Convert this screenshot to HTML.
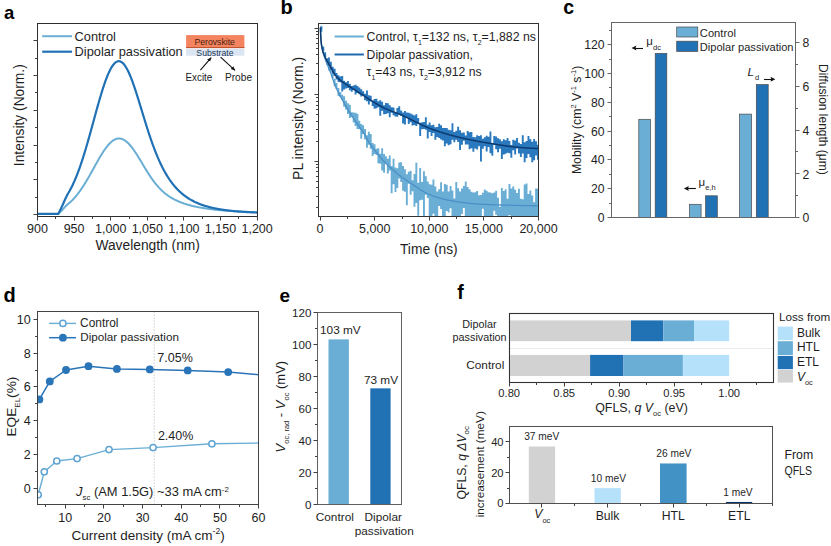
<!DOCTYPE html><html><head><meta charset="utf-8"><style>html,body{margin:0;padding:0;background:#fff;}svg{display:block;}</style></head><body>
<svg width="831" height="546" viewBox="0 0 831 546">
<rect width="831" height="546" fill="#fff"/>
<text x="4" y="19" font-family='"Liberation Sans", sans-serif' font-size="18.5" text-anchor="start" font-weight="bold" font-style="normal" fill="#000" >a</text>
<defs><clipPath id="ca"><rect x="37.5" y="23.5" width="220.0" height="193.0"/></clipPath></defs>
<path d="M37.5,213.9 L37.94,213.9 L38.38,213.9 L38.82,213.9 L39.26,213.9 L39.7,213.9 L40.15,213.9 L40.59,213.9 L41.03,213.9 L41.47,213.9 L41.91,213.9 L42.35,213.9 L42.79,213.9 L43.23,213.9 L43.67,213.9 L44.11,213.9 L44.55,213.9 L44.99,213.9 L45.44,213.9 L45.88,213.9 L46.32,213.9 L46.76,213.9 L47.2,213.9 L47.64,213.9 L48.08,213.9 L48.52,213.9 L48.96,213.9 L49.4,213.9 L49.84,213.9 L50.29,213.9 L50.73,213.9 L51.17,213.9 L51.61,213.9 L52.05,213.9 L52.49,213.9 L52.93,213.9 L53.37,213.9 L53.81,213.9 L54.25,213.9 L54.69,213.9 L55.14,213.9 L55.58,213.9 L56.02,213.9 L56.46,213.9 L56.9,213.9 L57.34,213.9 L57.78,213.9 L58.22,213.88 L58.66,213.5 L59.1,213.11 L59.54,212.7 L59.98,212.29 L60.43,211.85 L60.87,211.41 L61.31,210.96 L61.75,210.5 L62.19,210.03 L62.63,209.55 L63.07,209.07 L63.51,208.59 L63.95,208.11 L64.39,207.62 L64.83,207.14 L65.28,206.67 L65.72,206.2 L66.16,205.74 L66.6,205.3 L67.04,204.87 L67.48,204.47 L67.92,204.08 L68.36,203.73 L68.8,203.37 L69.24,203 L69.68,202.62 L70.13,202.23 L70.57,201.83 L71.01,201.43 L71.45,201.01 L71.89,200.58 L72.33,200.15 L72.77,199.7 L73.21,199.24 L73.65,198.77 L74.09,198.3 L74.53,197.81 L74.97,197.31 L75.42,196.8 L75.86,196.28 L76.3,195.75 L76.74,195.22 L77.18,194.67 L77.62,194.11 L78.06,193.54 L78.5,192.96 L78.94,192.37 L79.38,191.77 L79.82,191.16 L80.27,190.54 L80.71,189.92 L81.15,189.28 L81.59,188.63 L82.03,187.98 L82.47,187.31 L82.91,186.64 L83.35,185.96 L83.79,185.27 L84.23,184.57 L84.67,183.86 L85.12,183.15 L85.56,182.43 L86,181.7 L86.44,180.96 L86.88,180.22 L87.32,179.47 L87.76,178.72 L88.2,177.96 L88.64,177.19 L89.08,176.43 L89.52,175.65 L89.96,174.87 L90.41,174.09 L90.85,173.3 L91.29,172.52 L91.73,171.72 L92.17,170.93 L92.61,170.14 L93.05,169.34 L93.49,168.54 L93.93,167.75 L94.37,166.95 L94.81,166.15 L95.26,165.36 L95.7,164.57 L96.14,163.78 L96.58,162.99 L97.02,162.2 L97.46,161.42 L97.9,160.65 L98.34,159.88 L98.78,159.11 L99.22,158.35 L99.66,157.6 L100.11,156.85 L100.55,156.11 L100.99,155.38 L101.43,154.66 L101.87,153.95 L102.31,153.24 L102.75,152.55 L103.19,151.87 L103.63,151.2 L104.07,150.54 L104.51,149.9 L104.95,149.27 L105.4,148.65 L105.84,148.04 L106.28,147.46 L106.72,146.88 L107.16,146.32 L107.6,145.78 L108.04,145.25 L108.48,144.74 L108.92,144.25 L109.36,143.78 L109.8,143.32 L110.25,142.88 L110.69,142.46 L111.13,142.06 L111.57,141.68 L112.01,141.32 L112.45,140.99 L112.89,140.67 L113.33,140.37 L113.77,140.09 L114.21,139.84 L114.65,139.6 L115.1,139.39 L115.54,139.2 L115.98,139.04 L116.42,138.89 L116.86,138.77 L117.3,138.67 L117.74,138.59 L118.18,138.54 L118.62,138.51 L119.06,138.5 L119.5,138.51 L119.94,138.55 L120.39,138.61 L120.83,138.69 L121.27,138.8 L121.71,138.92 L122.15,139.07 L122.59,139.24 L123.03,139.43 L123.47,139.65 L123.91,139.88 L124.35,140.14 L124.79,140.41 L125.24,140.71 L125.68,141.03 L126.12,141.37 L126.56,141.72 L127,142.1 L127.44,142.5 L127.88,142.91 L128.32,143.34 L128.76,143.79 L129.2,144.26 L129.64,144.74 L130.09,145.25 L130.53,145.76 L130.97,146.29 L131.41,146.84 L131.85,147.4 L132.29,147.98 L132.73,148.57 L133.17,149.17 L133.61,149.79 L134.05,150.41 L134.49,151.05 L134.93,151.7 L135.38,152.36 L135.82,153.03 L136.26,153.7 L136.7,154.39 L137.14,155.08 L137.58,155.78 L138.02,156.49 L138.46,157.2 L138.9,157.92 L139.34,158.64 L139.78,159.37 L140.23,160.1 L140.67,160.83 L141.11,161.57 L141.55,162.3 L141.99,163.04 L142.43,163.78 L142.87,164.52 L143.31,165.25 L143.75,165.99 L144.19,166.72 L144.63,167.46 L145.08,168.19 L145.52,168.91 L145.96,169.64 L146.4,170.35 L146.84,171.07 L147.28,171.78 L147.72,172.48 L148.16,173.17 L148.6,173.87 L149.04,174.55 L149.48,175.23 L149.92,175.9 L150.37,176.56 L150.81,177.21 L151.25,177.86 L151.69,178.49 L152.13,179.12 L152.57,179.74 L153.01,180.35 L153.45,180.95 L153.89,181.54 L154.33,182.13 L154.77,182.7 L155.22,183.26 L155.66,183.82 L156.1,184.36 L156.54,184.89 L156.98,185.42 L157.42,185.93 L157.86,186.44 L158.3,186.93 L158.74,187.42 L159.18,187.9 L159.62,188.36 L160.07,188.82 L160.51,189.27 L160.95,189.71 L161.39,190.14 L161.83,190.56 L162.27,190.97 L162.71,191.37 L163.15,191.77 L163.59,192.16 L164.03,192.54 L164.47,192.91 L164.91,193.27 L165.36,193.62 L165.8,193.97 L166.24,194.31 L166.68,194.64 L167.12,194.97 L167.56,195.29 L168,195.6 L168.44,195.91 L168.88,196.21 L169.32,196.5 L169.76,196.79 L170.21,197.07 L170.65,197.34 L171.09,197.61 L171.53,197.87 L171.97,198.13 L172.41,198.38 L172.85,198.63 L173.29,198.87 L173.73,199.11 L174.17,199.34 L174.61,199.57 L175.06,199.79 L175.5,200.01 L175.94,200.23 L176.38,200.44 L176.82,200.64 L177.26,200.85 L177.7,201.05 L178.14,201.24 L178.58,201.43 L179.02,201.62 L179.46,201.8 L179.9,201.98 L180.35,202.16 L180.79,202.33 L181.23,202.5 L181.67,202.67 L182.11,202.83 L182.55,202.99 L182.99,203.15 L183.43,203.3 L183.87,203.46 L184.31,203.6 L184.75,203.75 L185.2,203.89 L185.64,204.04 L186.08,204.17 L186.52,204.31 L186.96,204.44 L187.4,204.58 L187.84,204.71 L188.28,204.83 L188.72,204.96 L189.16,205.08 L189.6,205.2 L190.05,205.32 L190.49,205.43 L190.93,205.55 L191.37,205.66 L191.81,205.77 L192.25,205.88 L192.69,205.99 L193.13,206.09 L193.57,206.19 L194.01,206.3 L194.45,206.4 L194.89,206.49 L195.34,206.59 L195.78,206.68 L196.22,206.78 L196.66,206.87 L197.1,206.96 L197.54,207.05 L197.98,207.14 L198.42,207.22 L198.86,207.31 L199.3,207.39 L199.74,207.47 L200.19,207.55 L200.63,207.63 L201.07,207.71 L201.51,207.79 L201.95,207.86 L202.39,207.94 L202.83,208.01 L203.27,208.08 L203.71,208.15 L204.15,208.22 L204.59,208.29 L205.04,208.36 L205.48,208.42 L205.92,208.49 L206.36,208.56 L206.8,208.62 L207.24,208.68 L207.68,208.74 L208.12,208.8 L208.56,208.86 L209,208.92 L209.44,208.98 L209.88,209.04 L210.33,209.09 L210.77,209.15 L211.21,209.2 L211.65,209.26 L212.09,209.31 L212.53,209.36 L212.97,209.41 L213.41,209.47 L213.85,209.52 L214.29,209.56 L214.73,209.61 L215.18,209.66 L215.62,209.71 L216.06,209.75 L216.5,209.8 L216.94,209.85 L217.38,209.89 L217.82,209.93 L218.26,209.98 L218.7,210.02 L219.14,210.06 L219.58,210.1 L220.03,210.14 L220.47,210.18 L220.91,210.22 L221.35,210.26 L221.79,210.3 L222.23,210.34 L222.67,210.38 L223.11,210.41 L223.55,210.45 L223.99,210.49 L224.43,210.52 L224.87,210.56 L225.32,210.59 L225.76,210.63 L226.2,210.66 L226.64,210.69 L227.08,210.73 L227.52,210.76 L227.96,210.79 L228.4,210.82 L228.84,210.85 L229.28,210.88 L229.72,210.91 L230.17,210.94 L230.61,210.97 L231.05,211 L231.49,211.03 L231.93,211.06 L232.37,211.09 L232.81,211.11 L233.25,211.14 L233.69,211.17 L234.13,211.19 L234.57,211.22 L235.02,211.25 L235.46,211.27 L235.9,211.3 L236.34,211.32 L236.78,211.35 L237.22,211.37 L237.66,211.39 L238.1,211.42 L238.54,211.44 L238.98,211.46 L239.42,211.49 L239.86,211.51 L240.31,211.53 L240.75,211.55 L241.19,211.57 L241.63,211.59 L242.07,211.62 L242.51,211.64 L242.95,211.66 L243.39,211.68 L243.83,211.7 L244.27,211.72 L244.71,211.74 L245.16,211.76 L245.6,211.78 L246.04,211.79 L246.48,211.81 L246.92,211.83 L247.36,211.85 L247.8,211.87 L248.24,211.88 L248.68,211.9 L249.12,211.92 L249.56,211.94 L250.01,211.95 L250.45,211.97 L250.89,211.99 L251.33,212 L251.77,212.02 L252.21,212.04 L252.65,212.05 L253.09,212.07 L253.53,212.08 L253.97,212.1 L254.41,212.11 L254.85,212.13 L255.3,212.14 L255.74,212.16 L256.18,212.17 L256.62,212.19 L257.06,212.2 L257.5,212.21" fill="none" stroke="#6aaed6" stroke-width="2.0" stroke-linejoin="round" stroke-linecap="round" clip-path="url(#ca)"/>
<path d="M37.5,213.9 L37.94,213.9 L38.38,213.9 L38.82,213.9 L39.26,213.9 L39.7,213.9 L40.15,213.9 L40.59,213.9 L41.03,213.9 L41.47,213.9 L41.91,213.9 L42.35,213.9 L42.79,213.9 L43.23,213.9 L43.67,213.9 L44.11,213.9 L44.55,213.9 L44.99,213.9 L45.44,213.9 L45.88,213.9 L46.32,213.9 L46.76,213.9 L47.2,213.9 L47.64,213.9 L48.08,213.9 L48.52,213.9 L48.96,213.9 L49.4,213.9 L49.84,213.9 L50.29,213.9 L50.73,213.9 L51.17,213.9 L51.61,213.9 L52.05,213.9 L52.49,213.9 L52.93,213.9 L53.37,213.9 L53.81,213.9 L54.25,213.9 L54.69,213.9 L55.14,213.9 L55.58,213.9 L56.02,213.9 L56.46,213.9 L56.9,213.9 L57.34,213.9 L57.78,213.9 L58.22,213.86 L58.66,213.08 L59.1,212.27 L59.54,211.43 L59.98,210.57 L60.43,209.68 L60.87,208.77 L61.31,207.84 L61.75,206.89 L62.19,205.92 L62.63,204.94 L63.07,203.95 L63.51,202.96 L63.95,201.96 L64.39,200.97 L64.83,199.98 L65.28,199 L65.72,198.04 L66.16,197.1 L66.6,196.19 L67.04,195.32 L67.48,194.49 L67.92,193.7 L68.36,192.97 L68.8,192.23 L69.24,191.48 L69.68,190.7 L70.13,189.91 L70.57,189.09 L71.01,188.26 L71.45,187.4 L71.89,186.53 L72.33,185.64 L72.77,184.72 L73.21,183.79 L73.65,182.83 L74.09,181.85 L74.53,180.86 L74.97,179.84 L75.42,178.8 L75.86,177.74 L76.3,176.66 L76.74,175.56 L77.18,174.44 L77.62,173.3 L78.06,172.14 L78.5,170.95 L78.94,169.75 L79.38,168.53 L79.82,167.29 L80.27,166.03 L80.71,164.75 L81.15,163.45 L81.59,162.13 L82.03,160.79 L82.47,159.44 L82.91,158.07 L83.35,156.68 L83.79,155.27 L84.23,153.85 L84.67,152.42 L85.12,150.96 L85.56,149.49 L86,148.01 L86.44,146.52 L86.88,145.01 L87.32,143.49 L87.76,141.96 L88.2,140.41 L88.64,138.86 L89.08,137.3 L89.52,135.72 L89.96,134.14 L90.41,132.56 L90.85,130.96 L91.29,129.36 L91.73,127.76 L92.17,126.15 L92.61,124.54 L93.05,122.93 L93.49,121.31 L93.93,119.7 L94.37,118.09 L94.81,116.47 L95.26,114.87 L95.7,113.26 L96.14,111.66 L96.58,110.07 L97.02,108.49 L97.46,106.91 L97.9,105.34 L98.34,103.78 L98.78,102.24 L99.22,100.71 L99.66,99.19 L100.11,97.68 L100.55,96.19 L100.99,94.72 L101.43,93.27 L101.87,91.84 L102.31,90.42 L102.75,89.03 L103.19,87.66 L103.63,86.32 L104.07,85 L104.51,83.7 L104.95,82.43 L105.4,81.2 L105.84,79.98 L106.28,78.8 L106.72,77.65 L107.16,76.54 L107.6,75.45 L108.04,74.4 L108.48,73.39 L108.92,72.4 L109.36,71.46 L109.8,70.55 L110.25,69.68 L110.69,68.85 L111.13,68.06 L111.57,67.31 L112.01,66.6 L112.45,65.93 L112.89,65.31 L113.33,64.73 L113.77,64.19 L114.21,63.69 L114.65,63.24 L115.1,62.83 L115.54,62.47 L115.98,62.15 L116.42,61.88 L116.86,61.65 L117.3,61.47 L117.74,61.33 L118.18,61.25 L118.62,61.2 L119.06,61.21 L119.5,61.26 L119.94,61.36 L120.39,61.5 L120.83,61.69 L121.27,61.93 L121.71,62.21 L122.15,62.54 L122.59,62.91 L123.03,63.33 L123.47,63.79 L123.91,64.3 L124.35,64.85 L124.79,65.44 L125.24,66.07 L125.68,66.74 L126.12,67.46 L126.56,68.21 L127,69 L127.44,69.83 L127.88,70.7 L128.32,71.6 L128.76,72.53 L129.2,73.5 L129.64,74.51 L130.09,75.54 L130.53,76.61 L130.97,77.7 L131.41,78.83 L131.85,79.98 L132.29,81.16 L132.73,82.36 L133.17,83.58 L133.61,84.83 L134.05,86.1 L134.49,87.39 L134.93,88.7 L135.38,90.03 L135.82,91.38 L136.26,92.74 L136.7,94.11 L137.14,95.5 L137.58,96.89 L138.02,98.3 L138.46,99.72 L138.9,101.15 L139.34,102.58 L139.78,104.02 L140.23,105.46 L140.67,106.91 L141.11,108.36 L141.55,109.81 L141.99,111.26 L142.43,112.71 L142.87,114.16 L143.31,115.61 L143.75,117.05 L144.19,118.49 L144.63,119.92 L145.08,121.35 L145.52,122.77 L145.96,124.19 L146.4,125.59 L146.84,126.99 L147.28,128.37 L147.72,129.75 L148.16,131.12 L148.6,132.47 L149.04,133.81 L149.48,135.14 L149.92,136.46 L150.37,137.76 L150.81,139.05 L151.25,140.33 L151.69,141.59 L152.13,142.83 L152.57,144.06 L153.01,145.28 L153.45,146.48 L153.89,147.67 L154.33,148.83 L154.77,149.99 L155.22,151.13 L155.66,152.25 L156.1,153.35 L156.54,154.44 L156.98,155.51 L157.42,156.57 L157.86,157.61 L158.3,158.63 L158.74,159.64 L159.18,160.63 L159.62,161.6 L160.07,162.56 L160.51,163.5 L160.95,164.43 L161.39,165.34 L161.83,166.24 L162.27,167.12 L162.71,167.98 L163.15,168.83 L163.59,169.67 L164.03,170.49 L164.47,171.29 L164.91,172.09 L165.36,172.86 L165.8,173.62 L166.24,174.37 L166.68,175.11 L167.12,175.83 L167.56,176.54 L168,177.23 L168.44,177.92 L168.88,178.58 L169.32,179.24 L169.76,179.89 L170.21,180.52 L170.65,181.14 L171.09,181.75 L171.53,182.35 L171.97,182.93 L172.41,183.51 L172.85,184.07 L173.29,184.62 L173.73,185.17 L174.17,185.7 L174.61,186.22 L175.06,186.73 L175.5,187.23 L175.94,187.73 L176.38,188.21 L176.82,188.68 L177.26,189.15 L177.7,189.6 L178.14,190.05 L178.58,190.49 L179.02,190.92 L179.46,191.34 L179.9,191.75 L180.35,192.16 L180.79,192.55 L181.23,192.94 L181.67,193.33 L182.11,193.7 L182.55,194.07 L182.99,194.43 L183.43,194.78 L183.87,195.13 L184.31,195.47 L184.75,195.8 L185.2,196.13 L185.64,196.45 L186.08,196.76 L186.52,197.07 L186.96,197.37 L187.4,197.67 L187.84,197.96 L188.28,198.25 L188.72,198.53 L189.16,198.8 L189.6,199.07 L190.05,199.34 L190.49,199.59 L190.93,199.85 L191.37,200.1 L191.81,200.34 L192.25,200.58 L192.69,200.82 L193.13,201.05 L193.57,201.27 L194.01,201.5 L194.45,201.71 L194.89,201.93 L195.34,202.14 L195.78,202.34 L196.22,202.54 L196.66,202.74 L197.1,202.94 L197.54,203.13 L197.98,203.31 L198.42,203.5 L198.86,203.68 L199.3,203.85 L199.74,204.03 L200.19,204.2 L200.63,204.36 L201.07,204.53 L201.51,204.69 L201.95,204.84 L202.39,205 L202.83,205.15 L203.27,205.3 L203.71,205.45 L204.15,205.59 L204.59,205.73 L205.04,205.87 L205.48,206 L205.92,206.14 L206.36,206.27 L206.8,206.39 L207.24,206.52 L207.68,206.64 L208.12,206.76 L208.56,206.88 L209,207 L209.44,207.12 L209.88,207.23 L210.33,207.34 L210.77,207.45 L211.21,207.55 L211.65,207.66 L212.09,207.76 L212.53,207.86 L212.97,207.96 L213.41,208.06 L213.85,208.15 L214.29,208.25 L214.73,208.34 L215.18,208.43 L215.62,208.52 L216.06,208.6 L216.5,208.69 L216.94,208.77 L217.38,208.85 L217.82,208.94 L218.26,209.02 L218.7,209.09 L219.14,209.17 L219.58,209.25 L220.03,209.32 L220.47,209.39 L220.91,209.46 L221.35,209.53 L221.79,209.6 L222.23,209.67 L222.67,209.74 L223.11,209.8 L223.55,209.87 L223.99,209.93 L224.43,209.99 L224.87,210.05 L225.32,210.11 L225.76,210.17 L226.2,210.23 L226.64,210.28 L227.08,210.34 L227.52,210.4 L227.96,210.45 L228.4,210.5 L228.84,210.55 L229.28,210.6 L229.72,210.65 L230.17,210.7 L230.61,210.75 L231.05,210.8 L231.49,210.85 L231.93,210.89 L232.37,210.94 L232.81,210.98 L233.25,211.03 L233.69,211.07 L234.13,211.11 L234.57,211.15 L235.02,211.19 L235.46,211.23 L235.9,211.27 L236.34,211.31 L236.78,211.35 L237.22,211.39 L237.66,211.43 L238.1,211.46 L238.54,211.5 L238.98,211.53 L239.42,211.57 L239.86,211.6 L240.31,211.63 L240.75,211.67 L241.19,211.7 L241.63,211.73 L242.07,211.76 L242.51,211.79 L242.95,211.82 L243.39,211.85 L243.83,211.88 L244.27,211.91 L244.71,211.94 L245.16,211.97 L245.6,211.99 L246.04,212.02 L246.48,212.05 L246.92,212.07 L247.36,212.1 L247.8,212.12 L248.24,212.15 L248.68,212.17 L249.12,212.2 L249.56,212.22 L250.01,212.24 L250.45,212.27 L250.89,212.29 L251.33,212.31 L251.77,212.33 L252.21,212.36 L252.65,212.38 L253.09,212.4 L253.53,212.42 L253.97,212.44 L254.41,212.46 L254.85,212.48 L255.3,212.5 L255.74,212.52 L256.18,212.53 L256.62,212.55 L257.06,212.57 L257.5,212.59" fill="none" stroke="#2171b5" stroke-width="2.2" stroke-linejoin="round" stroke-linecap="round" clip-path="url(#ca)"/>
<rect x="37.5" y="23.5" width="220" height="193" fill="none" stroke="#2e2e2e" stroke-width="1" />
<line x1="37.5" y1="216.5" x2="37.5" y2="220.5" stroke="#404040" stroke-width="1" />
<text x="37.5" y="232.7" font-family='"Liberation Sans", sans-serif' font-size="12.5" text-anchor="middle" font-weight="normal" font-style="normal" fill="#1e1e1e" >900</text>
<line x1="74.5" y1="216.5" x2="74.5" y2="220.5" stroke="#404040" stroke-width="1" />
<text x="74.1" y="232.7" font-family='"Liberation Sans", sans-serif' font-size="12.5" text-anchor="middle" font-weight="normal" font-style="normal" fill="#1e1e1e" >950</text>
<line x1="110.5" y1="216.5" x2="110.5" y2="220.5" stroke="#404040" stroke-width="1" />
<text x="110.7" y="232.7" font-family='"Liberation Sans", sans-serif' font-size="12.5" text-anchor="middle" font-weight="normal" font-style="normal" fill="#1e1e1e" >1,000</text>
<line x1="147.5" y1="216.5" x2="147.5" y2="220.5" stroke="#404040" stroke-width="1" />
<text x="147.3" y="232.7" font-family='"Liberation Sans", sans-serif' font-size="12.5" text-anchor="middle" font-weight="normal" font-style="normal" fill="#1e1e1e" >1,050</text>
<line x1="183.5" y1="216.5" x2="183.5" y2="220.5" stroke="#404040" stroke-width="1" />
<text x="183.9" y="232.7" font-family='"Liberation Sans", sans-serif' font-size="12.5" text-anchor="middle" font-weight="normal" font-style="normal" fill="#1e1e1e" >1,100</text>
<line x1="220.5" y1="216.5" x2="220.5" y2="220.5" stroke="#404040" stroke-width="1" />
<text x="220.5" y="232.7" font-family='"Liberation Sans", sans-serif' font-size="12.5" text-anchor="middle" font-weight="normal" font-style="normal" fill="#1e1e1e" >1,150</text>
<line x1="257.5" y1="216.5" x2="257.5" y2="220.5" stroke="#404040" stroke-width="1" />
<text x="257.1" y="232.7" font-family='"Liberation Sans", sans-serif' font-size="12.5" text-anchor="middle" font-weight="normal" font-style="normal" fill="#1e1e1e" >1,200</text>
<line x1="55.5" y1="216.5" x2="55.5" y2="219" stroke="#404040" stroke-width="1" />
<line x1="92.5" y1="216.5" x2="92.5" y2="219" stroke="#404040" stroke-width="1" />
<line x1="129.5" y1="216.5" x2="129.5" y2="219" stroke="#404040" stroke-width="1" />
<line x1="165.5" y1="216.5" x2="165.5" y2="219" stroke="#404040" stroke-width="1" />
<line x1="202.5" y1="216.5" x2="202.5" y2="219" stroke="#404040" stroke-width="1" />
<line x1="238.5" y1="216.5" x2="238.5" y2="219" stroke="#404040" stroke-width="1" />
<line x1="33.5" y1="214.5" x2="37.5" y2="214.5" stroke="#404040" stroke-width="1" />
<line x1="33.5" y1="179.5" x2="37.5" y2="179.5" stroke="#404040" stroke-width="1" />
<line x1="33.5" y1="145.5" x2="37.5" y2="145.5" stroke="#404040" stroke-width="1" />
<line x1="33.5" y1="110.5" x2="37.5" y2="110.5" stroke="#404040" stroke-width="1" />
<line x1="33.5" y1="75.5" x2="37.5" y2="75.5" stroke="#404040" stroke-width="1" />
<line x1="33.5" y1="40.5" x2="37.5" y2="40.5" stroke="#404040" stroke-width="1" />
<line x1="35" y1="197.5" x2="37.5" y2="197.5" stroke="#404040" stroke-width="1" />
<line x1="35" y1="162.5" x2="37.5" y2="162.5" stroke="#404040" stroke-width="1" />
<line x1="35" y1="127.5" x2="37.5" y2="127.5" stroke="#404040" stroke-width="1" />
<line x1="35" y1="92.5" x2="37.5" y2="92.5" stroke="#404040" stroke-width="1" />
<line x1="35" y1="58.5" x2="37.5" y2="58.5" stroke="#404040" stroke-width="1" />
<text x="147.7" y="250.4" font-family='"Liberation Sans", sans-serif' font-size="13.8" text-anchor="middle" font-weight="normal" font-style="normal" fill="#1e1e1e" >Wavelength (nm)</text>
<text x="24.3" y="115.2" font-family='"Liberation Sans", sans-serif' font-size="13.8" text-anchor="middle" font-weight="normal" font-style="normal" fill="#1e1e1e" transform="rotate(-90 24.3 115.2)" >Intensity (Norm.)</text>
<line x1="42.2" y1="36.2" x2="72" y2="36.2" stroke="#6aaed6" stroke-width="2.0" />
<line x1="42.2" y1="51.7" x2="72" y2="51.7" stroke="#2171b5" stroke-width="2.2" />
<text x="74.6" y="40.9" font-family='"Liberation Sans", sans-serif' font-size="12.8" text-anchor="start" font-weight="normal" font-style="normal" fill="#1e1e1e" >Control</text>
<text x="74.6" y="56" font-family='"Liberation Sans", sans-serif' font-size="12.8" text-anchor="start" font-weight="normal" font-style="normal" fill="#1e1e1e" >Dipolar passivation</text>
<rect x="186.1" y="35.1" width="58.3" height="13.1" fill="#f4845f" stroke="none" stroke-width="0" />
<line x1="186.1" y1="47.5" x2="244.4" y2="47.5" stroke="#c0562f" stroke-width="1" />
<rect x="186.1" y="48.6" width="58.3" height="7.1" fill="#dce6f2" stroke="none" stroke-width="0" />
<text x="214.7" y="45.2" font-family='"Liberation Sans", sans-serif' font-size="9" text-anchor="middle" font-weight="normal" font-style="normal" fill="#4a1f10" textLength="40.5" lengthAdjust="spacingAndGlyphs" >Perovskite</text>
<text x="215" y="55.5" font-family='"Liberation Sans", sans-serif' font-size="8.5" text-anchor="middle" font-weight="normal" font-style="normal" fill="#243a5a" textLength="37.3" lengthAdjust="spacingAndGlyphs" >Substrate</text>
<defs><marker id="ah" markerWidth="5" markerHeight="5" refX="4" refY="2.5" orient="auto" markerUnits="userSpaceOnUse"><path d="M0,0.6 L4.2,2.5 L0,4.4 z" fill="#111"/></marker></defs>
<line x1="200.4" y1="70.2" x2="211.2" y2="57.6" stroke="#111" stroke-width="1.1" marker-end="url(#ah)"/>
<line x1="220.6" y1="57.1" x2="235" y2="70.3" stroke="#111" stroke-width="1.1" marker-end="url(#ah)"/>
<text x="198.9" y="80.7" font-family='"Liberation Sans", sans-serif' font-size="10" text-anchor="middle" font-weight="normal" font-style="normal" fill="#222" textLength="26.8" lengthAdjust="spacingAndGlyphs" >Excite</text>
<text x="238.5" y="80.7" font-family='"Liberation Sans", sans-serif' font-size="10" text-anchor="middle" font-weight="normal" font-style="normal" fill="#222" textLength="27.1" lengthAdjust="spacingAndGlyphs" >Probe</text>
<text x="280.6" y="13.7" font-family='"Liberation Sans", sans-serif' font-size="20" text-anchor="start" font-weight="bold" font-style="normal" fill="#000" >b</text>
<defs><clipPath id="cb"><rect x="318.5" y="23.5" width="220.0" height="193.0"/></clipPath></defs>
<path d="M320.4,25.69 L322.3,25.69 L322.3,46.16 L324.2,46.16 L324.2,54.31 L326.1,54.31 L326.1,59.86 L328,59.86 L328,65.54 L329.9,65.54 L329.9,68.47 L331.8,68.47 L331.8,73.42 L333.7,73.42 L333.7,78.77 L335.6,78.77 L335.6,83.01 L337.5,83.01 L337.5,87.9 L339.4,87.9 L339.4,91.88 L341.3,91.88 L341.3,94.63 L343.2,94.63 L343.2,96.32 L345.1,96.32 L345.1,100.87 L347,100.87 L347,103.3 L348.9,103.3 L348.9,104.87 L350.8,104.87 L350.8,112.33 L352.7,112.33 L352.7,112.62 L354.6,112.62 L354.6,112.63 L356.5,112.63 L356.5,113.85 L358.4,113.85 L358.4,120.86 L360.3,120.86 L360.3,124.04 L362.2,124.04 L362.2,125.19 L364.1,125.19 L364.1,128.99 L366,128.99 L366,135.26 L367.9,135.26 L367.9,131.64 L369.8,131.64 L369.8,134.08 L371.7,134.08 L371.7,143.08 L373.6,143.08 L373.6,144.29 L375.5,144.29 L375.5,148.69 L377.4,148.69 L377.4,148.36 L379.3,148.36 L379.3,153.64 L381.2,153.64 L381.2,148.22 L383.1,148.22 L383.1,154.01 L385,154.01 L385,156.15 L386.9,156.15 L386.9,158.78 L388.8,158.78 L388.8,155.6 L390.7,155.6 L390.7,165.92 L392.6,165.92 L392.6,158.74 L394.5,158.74 L394.5,167.45 L396.4,167.45 L396.4,168.13 L398.3,168.13 L398.3,162.58 L400.2,162.58 L400.2,162.24 L402.1,162.24 L402.1,166.07 L404,166.07 L404,169.21 L405.9,169.21 L405.9,174.36 L407.8,174.36 L407.8,171.8 L409.7,171.8 L409.7,170.68 L411.6,170.68 L411.6,180.25 L413.5,180.25 L413.5,174.06 L415.4,174.06 L415.4,162.86 L417.3,162.86 L417.3,182.78 L419.2,182.78 L419.2,168.07 L421.1,168.07 L421.1,181.92 L423,181.92 L423,171.35 L424.9,171.35 L424.9,176.27 L426.8,176.27 L426.8,181.38 L428.7,181.38 L428.7,184.24 L430.6,184.24 L430.6,184.69 L432.5,184.69 L432.5,179.59 L434.4,179.59 L434.4,186.56 L436.3,186.56 L436.3,191.59 L438.2,191.59 L438.2,189.34 L440.1,189.34 L440.1,182.16 L442,182.16 L442,191.62 L443.9,191.62 L443.9,183.99 L445.8,183.99 L445.8,184.63 L447.7,184.63 L447.7,191.58 L449.6,191.58 L449.6,186.09 L451.5,186.09 L451.5,190.47 L453.4,190.47 L453.4,198.52 L455.3,198.52 L455.3,181.96 L457.2,181.96 L457.2,188.34 L459.1,188.34 L459.1,191.62 L461,191.62 L461,188.41 L462.9,188.41 L462.9,186.06 L464.8,186.06 L464.8,181.59 L466.7,181.59 L466.7,186.88 L468.6,186.88 L468.6,189.16 L470.5,189.16 L470.5,191.82 L472.4,191.82 L472.4,192.51 L474.3,192.51 L474.3,192.14 L476.2,192.14 L476.2,191.05 L478.1,191.05 L478.1,195.28 L480,195.28 L480,194.88 L481.9,194.88 L481.9,192.65 L483.8,192.65 L483.8,189.51 L485.7,189.51 L485.7,190.81 L487.6,190.81 L487.6,192.15 L489.5,192.15 L489.5,192.61 L491.4,192.61 L491.4,193.24 L493.3,193.24 L493.3,192.52 L495.2,192.52 L495.2,190.71 L497.1,190.71 L497.1,197.82 L499,197.82 L499,206.76 L500.9,206.76 L500.9,188 L502.8,188 L502.8,190.94 L504.7,190.94 L504.7,189.17 L506.6,189.17 L506.6,198.87 L508.5,198.87 L508.5,184.1 L510.4,184.1 L510.4,188.61 L512.3,188.61 L512.3,186.44 L514.2,186.44 L514.2,189.64 L516.1,189.64 L516.1,192.88 L518,192.88 L518,188.85 L519.9,188.85 L519.9,198.66 L521.8,198.66 L521.8,199.36 L523.7,199.36 L523.7,184.51 L525.6,184.51 L525.6,183.43 L527.5,183.43 L527.5,194.03 L529.4,194.03 L529.4,190.41 L531.3,190.41 L531.3,195.53 L533.2,195.53 L533.2,202.16 L535.1,202.16 L535.1,188.47 L537,188.47 L537,188.87 L538.9,188.87 L538.9,189.68 L540.8,189.68 L540.8,207.18 L538.9,207.18 L538.9,220.1 L537,220.1 L537,220.1 L535.1,220.1 L535.1,220.1 L533.2,220.1 L533.2,220.1 L531.3,220.1 L531.3,220.1 L529.4,220.1 L529.4,220.1 L527.5,220.1 L527.5,220.1 L525.6,220.1 L525.6,220.1 L523.7,220.1 L523.7,216.36 L521.8,216.36 L521.8,220.1 L519.9,220.1 L519.9,220.1 L518,220.1 L518,220.1 L516.1,220.1 L516.1,220.1 L514.2,220.1 L514.2,220.1 L512.3,220.1 L512.3,220.1 L510.4,220.1 L510.4,214.9 L508.5,214.9 L508.5,220.1 L506.6,220.1 L506.6,220.1 L504.7,220.1 L504.7,220.1 L502.8,220.1 L502.8,220.1 L500.9,220.1 L500.9,220.1 L499,220.1 L499,220.1 L497.1,220.1 L497.1,214.68 L495.2,214.68 L495.2,210.63 L493.3,210.63 L493.3,220.1 L491.4,220.1 L491.4,220.1 L489.5,220.1 L489.5,220.1 L487.6,220.1 L487.6,220.1 L485.7,220.1 L485.7,220.1 L483.8,220.1 L483.8,208.78 L481.9,208.78 L481.9,216.35 L480,216.35 L480,220.1 L478.1,220.1 L478.1,220.1 L476.2,220.1 L476.2,220.1 L474.3,220.1 L474.3,220.1 L472.4,220.1 L472.4,220.1 L470.5,220.1 L470.5,220.1 L468.6,220.1 L468.6,220.1 L466.7,220.1 L466.7,220.1 L464.8,220.1 L464.8,208.05 L462.9,208.05 L462.9,213.95 L461,213.95 L461,220.1 L459.1,220.1 L459.1,220.1 L457.2,220.1 L457.2,220.1 L455.3,220.1 L455.3,220.1 L453.4,220.1 L453.4,220.1 L451.5,220.1 L451.5,208.27 L449.6,208.27 L449.6,212.56 L447.7,212.56 L447.7,210.95 L445.8,210.95 L445.8,220.1 L443.9,220.1 L443.9,220.1 L442,220.1 L442,209.12 L440.1,209.12 L440.1,205.92 L438.2,205.92 L438.2,220.1 L436.3,220.1 L436.3,220.1 L434.4,220.1 L434.4,213.64 L432.5,213.64 L432.5,220.1 L430.6,220.1 L430.6,220.1 L428.7,220.1 L428.7,198.02 L426.8,198.02 L426.8,194.85 L424.9,194.85 L424.9,220.1 L423,220.1 L423,199.67 L421.1,199.67 L421.1,200.3 L419.2,200.3 L419.2,215.83 L417.3,215.83 L417.3,202.95 L415.4,202.95 L415.4,206.67 L413.5,206.67 L413.5,191.37 L411.6,191.37 L411.6,194.84 L409.7,194.84 L409.7,183.86 L407.8,183.86 L407.8,205.23 L405.9,205.23 L405.9,191.82 L404,191.82 L404,190.83 L402.1,190.83 L402.1,182.04 L400.2,182.04 L400.2,178.54 L398.3,178.54 L398.3,188.09 L396.4,188.09 L396.4,191.96 L394.5,191.96 L394.5,184.34 L392.6,184.34 L392.6,193.29 L390.7,193.29 L390.7,170.57 L388.8,170.57 L388.8,173.49 L386.9,173.49 L386.9,163.86 L385,163.86 L385,172.87 L383.1,172.87 L383.1,170.5 L381.2,170.5 L381.2,163.76 L379.3,163.76 L379.3,163.19 L377.4,163.19 L377.4,154.89 L375.5,154.89 L375.5,153.92 L373.6,153.92 L373.6,156.12 L371.7,156.12 L371.7,148.68 L369.8,148.68 L369.8,144.73 L367.9,144.73 L367.9,147.87 L366,147.87 L366,139.57 L364.1,139.57 L364.1,133.91 L362.2,133.91 L362.2,138.7 L360.3,138.7 L360.3,129.31 L358.4,129.31 L358.4,129.08 L356.5,129.08 L356.5,126.05 L354.6,126.05 L354.6,122.39 L352.7,122.39 L352.7,117.32 L350.8,117.32 L350.8,118.02 L348.9,118.02 L348.9,114.01 L347,114.01 L347,109.39 L345.1,109.39 L345.1,106.81 L343.2,106.81 L343.2,99.98 L341.3,99.98 L341.3,97.3 L339.4,97.3 L339.4,95.94 L337.5,95.94 L337.5,88.98 L335.6,88.98 L335.6,86.3 L333.7,86.3 L333.7,78.37 L331.8,78.37 L331.8,72.81 L329.9,72.81 L329.9,70.56 L328,70.56 L328,65.01 L326.1,65.01 L326.1,57.48 L324.2,57.48 L324.2,52.69 L322.3,52.69 L322.3,29.29 L320.4,29.29Z" fill="#6aaed6" clip-path="url(#cb)"/>
<path d="M320.4,26.69 L322.3,26.69 L322.3,47.23 L324.2,47.23 L324.2,52.2 L326.1,52.2 L326.1,58.2 L328,58.2 L328,57.46 L329.9,57.46 L329.9,61.74 L331.8,61.74 L331.8,66.81 L333.7,66.81 L333.7,68.65 L335.6,68.65 L335.6,72.9 L337.5,72.9 L337.5,75.24 L339.4,75.24 L339.4,76.54 L341.3,76.54 L341.3,76.02 L343.2,76.02 L343.2,80.64 L345.1,80.64 L345.1,82.16 L347,82.16 L347,80.89 L348.9,80.89 L348.9,83.7 L350.8,83.7 L350.8,85.88 L352.7,85.88 L352.7,85.5 L354.6,85.5 L354.6,84.86 L356.5,84.86 L356.5,86 L358.4,86 L358.4,87.49 L360.3,87.49 L360.3,89.26 L362.2,89.26 L362.2,91.23 L364.1,91.23 L364.1,93.66 L366,93.66 L366,90.46 L367.9,90.46 L367.9,95.33 L369.8,95.33 L369.8,95.69 L371.7,95.69 L371.7,100.4 L373.6,100.4 L373.6,98.94 L375.5,98.94 L375.5,98.87 L377.4,98.87 L377.4,101.14 L379.3,101.14 L379.3,100.25 L381.2,100.25 L381.2,101.7 L383.1,101.7 L383.1,105.19 L385,105.19 L385,103.03 L386.9,103.03 L386.9,103.15 L388.8,103.15 L388.8,105.18 L390.7,105.18 L390.7,107.18 L392.6,107.18 L392.6,107.53 L394.5,107.53 L394.5,112.82 L396.4,112.82 L396.4,107.93 L398.3,107.93 L398.3,106.17 L400.2,106.17 L400.2,110.38 L402.1,110.38 L402.1,112.43 L404,112.43 L404,110.96 L405.9,110.96 L405.9,112.51 L407.8,112.51 L407.8,112.64 L409.7,112.64 L409.7,113.43 L411.6,113.43 L411.6,114.62 L413.5,114.62 L413.5,115.62 L415.4,115.62 L415.4,114.25 L417.3,114.25 L417.3,117.94 L419.2,117.94 L419.2,122.85 L421.1,122.85 L421.1,122.36 L423,122.36 L423,122.08 L424.9,122.08 L424.9,117.23 L426.8,117.23 L426.8,124.8 L428.7,124.8 L428.7,122.51 L430.6,122.51 L430.6,125.25 L432.5,125.25 L432.5,124.77 L434.4,124.77 L434.4,127.23 L436.3,127.23 L436.3,126.93 L438.2,126.93 L438.2,123.84 L440.1,123.84 L440.1,125.32 L442,125.32 L442,127.97 L443.9,127.97 L443.9,127.88 L445.8,127.88 L445.8,127.91 L447.7,127.91 L447.7,129.68 L449.6,129.68 L449.6,130.15 L451.5,130.15 L451.5,123.24 L453.4,123.24 L453.4,131.88 L455.3,131.88 L455.3,130.64 L457.2,130.64 L457.2,126.8 L459.1,126.8 L459.1,130.31 L461,130.31 L461,132.68 L462.9,132.68 L462.9,132.43 L464.8,132.43 L464.8,135.44 L466.7,135.44 L466.7,130.89 L468.6,130.89 L468.6,132.34 L470.5,132.34 L470.5,132.09 L472.4,132.09 L472.4,137 L474.3,137 L474.3,137.17 L476.2,137.17 L476.2,135.32 L478.1,135.32 L478.1,136.01 L480,136.01 L480,135.28 L481.9,135.28 L481.9,138.7 L483.8,138.7 L483.8,137.33 L485.7,137.33 L485.7,135.71 L487.6,135.71 L487.6,136.86 L489.5,136.86 L489.5,131.39 L491.4,131.39 L491.4,142.98 L493.3,142.98 L493.3,135.97 L495.2,135.97 L495.2,136.55 L497.1,136.55 L497.1,138.36 L499,138.36 L499,139.14 L500.9,139.14 L500.9,141.16 L502.8,141.16 L502.8,139.18 L504.7,139.18 L504.7,140.2 L506.6,140.2 L506.6,138.05 L508.5,138.05 L508.5,141.07 L510.4,141.07 L510.4,145.11 L512.3,145.11 L512.3,139.66 L514.2,139.66 L514.2,140.45 L516.1,140.45 L516.1,137.91 L518,137.91 L518,142.84 L519.9,142.84 L519.9,144.1 L521.8,144.1 L521.8,135.18 L523.7,135.18 L523.7,142.2 L525.6,142.2 L525.6,141.05 L527.5,141.05 L527.5,136.05 L529.4,136.05 L529.4,139.17 L531.3,139.17 L531.3,141.84 L533.2,141.84 L533.2,138.96 L535.1,138.96 L535.1,141.29 L537,141.29 L537,144.72 L538.9,144.72 L538.9,141.72 L540.8,141.72 L540.8,152.31 L538.9,152.31 L538.9,159.75 L537,159.75 L537,155.61 L535.1,155.61 L535.1,160.25 L533.2,160.25 L533.2,162.14 L531.3,162.14 L531.3,157.21 L529.4,157.21 L529.4,154.05 L527.5,154.05 L527.5,157.97 L525.6,157.97 L525.6,162.18 L523.7,162.18 L523.7,153.44 L521.8,153.44 L521.8,156.91 L519.9,156.91 L519.9,153.51 L518,153.51 L518,148.52 L516.1,148.52 L516.1,154.49 L514.2,154.49 L514.2,150.2 L512.3,150.2 L512.3,157.64 L510.4,157.64 L510.4,153.18 L508.5,153.18 L508.5,152.73 L506.6,152.73 L506.6,153.86 L504.7,153.86 L504.7,154.47 L502.8,154.47 L502.8,159 L500.9,159 L500.9,148.7 L499,148.7 L499,152.33 L497.1,152.33 L497.1,149.15 L495.2,149.15 L495.2,144.82 L493.3,144.82 L493.3,155.77 L491.4,155.77 L491.4,153.35 L489.5,153.35 L489.5,146.99 L487.6,146.99 L487.6,151.57 L485.7,151.57 L485.7,146.15 L483.8,146.15 L483.8,148.7 L481.9,148.7 L481.9,161.54 L480,161.54 L480,146.25 L478.1,146.25 L478.1,149.6 L476.2,149.6 L476.2,148.56 L474.3,148.56 L474.3,151.72 L472.4,151.72 L472.4,148.22 L470.5,148.22 L470.5,149.13 L468.6,149.13 L468.6,144.4 L466.7,144.4 L466.7,144.39 L464.8,144.39 L464.8,140.77 L462.9,140.77 L462.9,144.75 L461,144.75 L461,150.1 L459.1,150.1 L459.1,141.9 L457.2,141.9 L457.2,139.85 L455.3,139.85 L455.3,142.35 L453.4,142.35 L453.4,139.67 L451.5,139.67 L451.5,144.33 L449.6,144.33 L449.6,145.27 L447.7,145.27 L447.7,143.58 L445.8,143.58 L445.8,146.14 L443.9,146.14 L443.9,140.4 L442,140.4 L442,139.44 L440.1,139.44 L440.1,138.03 L438.2,138.03 L438.2,136.94 L436.3,136.94 L436.3,139.83 L434.4,139.83 L434.4,132.91 L432.5,132.91 L432.5,136 L430.6,136 L430.6,132.02 L428.7,132.02 L428.7,138.58 L426.8,138.58 L426.8,129.71 L424.9,129.71 L424.9,129.02 L423,129.02 L423,129.25 L421.1,129.25 L421.1,136.09 L419.2,136.09 L419.2,123.57 L417.3,123.57 L417.3,125.88 L415.4,125.88 L415.4,124.99 L413.5,124.99 L413.5,125.46 L411.6,125.46 L411.6,122.21 L409.7,122.21 L409.7,124 L407.8,124 L407.8,117.94 L405.9,117.94 L405.9,124.5 L404,124.5 L404,123.41 L402.1,123.41 L402.1,115.86 L400.2,115.86 L400.2,114.19 L398.3,114.19 L398.3,116.74 L396.4,116.74 L396.4,116.62 L394.5,116.62 L394.5,115.17 L392.6,115.17 L392.6,112.65 L390.7,112.65 L390.7,117.19 L388.8,117.19 L388.8,113.18 L386.9,113.18 L386.9,113.93 L385,113.93 L385,114.16 L383.1,114.16 L383.1,110.78 L381.2,110.78 L381.2,115.76 L379.3,115.76 L379.3,107.21 L377.4,107.21 L377.4,108.16 L375.5,108.16 L375.5,108.65 L373.6,108.65 L373.6,106.11 L371.7,106.11 L371.7,101.55 L369.8,101.55 L369.8,104.6 L367.9,104.6 L367.9,101.18 L366,101.18 L366,100.24 L364.1,100.24 L364.1,95.49 L362.2,95.49 L362.2,96.41 L360.3,96.41 L360.3,94.37 L358.4,94.37 L358.4,92.99 L356.5,92.99 L356.5,94.5 L354.6,94.5 L354.6,90.35 L352.7,90.35 L352.7,91.71 L350.8,91.71 L350.8,90.34 L348.9,90.34 L348.9,88 L347,88 L347,88.54 L345.1,88.54 L345.1,89.48 L343.2,89.48 L343.2,91.56 L341.3,91.56 L341.3,82.3 L339.4,82.3 L339.4,82.07 L337.5,82.07 L337.5,79.6 L335.6,79.6 L335.6,75.66 L333.7,75.66 L333.7,73.82 L331.8,73.82 L331.8,69.54 L329.9,69.54 L329.9,65.72 L328,65.72 L328,60.91 L326.1,60.91 L326.1,56.98 L324.2,56.98 L324.2,50.64 L322.3,50.64 L322.3,31.77 L320.4,31.77Z" fill="#2a78be" clip-path="url(#cb)"/>
<path d="M320.4,28 L320.76,36.72 L321.13,41.77 L321.49,44.72 L321.86,46.95 L322.22,48.73 L322.58,50.33 L322.95,51.88 L323.31,53.28 L323.68,54.56 L324.04,55.75 L324.41,56.87 L324.77,57.93 L325.13,58.96 L325.5,59.99 L325.86,61 L326.23,61.96 L326.59,62.88 L326.95,63.77 L327.32,64.63 L327.68,65.48 L328.05,66.32 L328.41,67.15 L328.77,68 L329.14,68.86 L329.5,69.74 L329.87,70.66 L330.23,71.61 L330.59,72.6 L330.96,73.62 L331.32,74.67 L331.69,75.73 L332.05,76.81 L332.42,77.89 L332.78,78.97 L333.14,80.05 L333.51,81.11 L333.87,82.15 L334.24,83.17 L334.6,84.15 L334.96,85.09 L335.33,85.99 L335.69,86.85 L336.06,87.67 L336.42,88.47 L336.78,89.25 L337.15,90 L337.51,90.74 L337.88,91.47 L338.24,92.18 L338.61,92.89 L338.97,93.58 L339.33,94.27 L339.7,94.95 L340.06,95.64 L340.43,96.32 L340.79,97 L341.15,97.69 L341.52,98.38 L341.88,99.06 L342.25,99.74 L342.61,100.41 L342.97,101.08 L343.34,101.75 L343.7,102.41 L344.07,103.07 L344.43,103.72 L344.8,104.36 L345.16,105 L345.52,105.63 L345.89,106.26 L346.25,106.88 L346.62,107.49 L346.98,108.1 L347.34,108.7 L347.71,109.3 L348.07,109.89 L348.44,110.47 L348.8,111.05 L349.16,111.63 L349.53,112.2 L349.89,112.77 L350.26,113.33 L350.62,113.89 L350.98,114.45 L351.35,115.01 L351.71,115.56 L352.08,116.12 L352.44,116.67 L352.81,117.21 L353.17,117.76 L353.53,118.3 L353.9,118.83 L354.26,119.36 L354.63,119.9 L354.99,120.42 L355.35,120.95 L355.72,121.48 L356.08,122 L356.45,122.53 L356.81,123.05 L357.17,123.58 L357.54,124.11 L357.9,124.63 L358.27,125.16 L358.63,125.69 L359,126.22 L359.36,126.74 L359.72,127.25 L360.09,127.77 L360.45,128.28 L360.82,128.8 L361.18,129.31 L361.54,129.83 L361.91,130.35 L362.27,130.88 L362.64,131.42 L363,131.96 L363.36,132.51 L363.73,133.07 L364.09,133.65 L364.46,134.24 L364.82,134.86 L365.19,135.5 L365.55,136.15 L365.91,136.81 L366.28,137.48 L366.64,138.15 L367.01,138.83 L367.37,139.5 L367.73,140.17 L368.1,140.83 L368.46,141.48 L368.83,142.11 L369.19,142.72 L369.55,143.31 L369.92,143.88 L370.28,144.42 L370.65,144.95 L371.01,145.48 L371.37,145.99 L371.74,146.5 L372.1,147 L372.47,147.49 L372.83,147.98 L373.2,148.46 L373.56,148.94 L373.92,149.4 L374.29,149.87 L374.65,150.33 L375.02,150.78 L375.38,151.23 L375.74,151.68 L376.11,152.12 L376.47,152.56 L376.84,153 L377.2,153.44 L377.56,153.87 L377.93,154.3 L378.29,154.74 L378.66,155.17 L379.02,155.6 L379.39,156.03 L379.75,156.46 L380.11,156.9 L380.48,157.33 L380.84,157.76 L381.21,158.19 L381.57,158.62 L381.93,159.04 L382.3,159.46 L382.66,159.88 L383.03,160.29 L383.39,160.7 L383.75,161.1 L384.12,161.49 L384.48,161.88 L384.85,162.26 L385.21,162.63 L385.58,163 L385.94,163.37 L386.3,163.73 L386.67,164.09 L387.03,164.44 L387.4,164.8 L387.76,165.14 L388.12,165.49 L388.49,165.83 L388.85,166.17 L389.22,166.51 L389.58,166.84 L389.94,167.18 L390.31,167.51 L390.67,167.84 L391.04,168.17 L391.4,168.5 L391.76,168.83 L392.13,169.15 L392.49,169.48 L392.86,169.8 L393.22,170.13 L393.59,170.45 L393.95,170.77 L394.31,171.08 L394.68,171.4 L395.04,171.71 L395.41,172.03 L395.77,172.33 L396.13,172.64 L396.5,172.95 L396.86,173.25 L397.23,173.55 L397.59,173.85 L397.95,174.14 L398.32,174.43 L398.68,174.72 L399.05,175 L399.41,175.29 L399.78,175.57 L400.14,175.84 L400.5,176.12 L400.87,176.39 L401.23,176.67 L401.6,176.94 L401.96,177.21 L402.32,177.47 L402.69,177.74 L403.05,178 L403.42,178.27 L403.78,178.53 L404.14,178.79 L404.51,179.04 L404.87,179.3 L405.24,179.56 L405.6,179.81 L405.97,180.06 L406.33,180.31 L406.69,180.56 L407.06,180.81 L407.42,181.06 L407.79,181.31 L408.15,181.55 L408.51,181.8 L408.88,182.04 L409.24,182.29 L409.61,182.53 L409.97,182.77 L410.33,183.01 L410.7,183.25 L411.06,183.49 L411.43,183.73 L411.79,183.97 L412.15,184.2 L412.52,184.44 L412.88,184.68 L413.25,184.91 L413.61,185.15 L413.98,185.38 L414.34,185.62 L414.7,185.86 L415.07,186.09 L415.43,186.33 L415.8,186.57 L416.16,186.82 L416.52,187.06 L416.89,187.3 L417.25,187.54 L417.62,187.78 L417.98,188.02 L418.34,188.27 L418.71,188.51 L419.07,188.75 L419.44,188.99 L419.8,189.23 L420.17,189.46 L420.53,189.7 L420.89,189.93 L421.26,190.17 L421.62,190.4 L421.99,190.62 L422.35,190.85 L422.71,191.07 L423.08,191.3 L423.44,191.51 L423.81,191.73 L424.17,191.94 L424.53,192.15 L424.9,192.35 L425.26,192.56 L425.63,192.75 L425.99,192.95 L426.36,193.14 L426.72,193.32 L427.08,193.5 L427.45,193.68 L427.81,193.85 L428.18,194.01 L428.54,194.17 L428.9,194.33 L429.27,194.48 L429.63,194.63 L430,194.78 L430.36,194.93 L430.72,195.07 L431.09,195.21 L431.45,195.35 L431.82,195.49 L432.18,195.62 L432.54,195.75 L432.91,195.88 L433.27,196.01 L433.64,196.14 L434,196.26 L434.37,196.39 L434.73,196.51 L435.09,196.63 L435.46,196.75 L435.82,196.86 L436.19,196.98 L436.55,197.09 L436.91,197.2 L437.28,197.31 L437.64,197.42 L438.01,197.53 L438.37,197.64 L438.73,197.74 L439.1,197.85 L439.46,197.95 L439.83,198.06 L440.19,198.16 L440.56,198.26 L440.92,198.36 L441.28,198.46 L441.65,198.56 L442.01,198.66 L442.38,198.76 L442.74,198.85 L443.1,198.95 L443.47,199.05 L443.83,199.14 L444.2,199.23 L444.56,199.33 L444.92,199.42 L445.29,199.51 L445.65,199.59 L446.02,199.68 L446.38,199.76 L446.75,199.85 L447.11,199.93 L447.47,200.01 L447.84,200.09 L448.2,200.16 L448.57,200.23 L448.93,200.3 L449.29,200.37 L449.66,200.44 L450.02,200.5 L450.39,200.57 L450.75,200.63 L451.11,200.69 L451.48,200.75 L451.84,200.81 L452.21,200.88 L452.57,200.94 L452.93,201 L453.3,201.06 L453.66,201.12 L454.03,201.18 L454.39,201.24 L454.76,201.3 L455.12,201.36 L455.48,201.41 L455.85,201.47 L456.21,201.53 L456.58,201.59 L456.94,201.64 L457.3,201.7 L457.67,201.75 L458.03,201.81 L458.4,201.87 L458.76,201.92 L459.12,201.97 L459.49,202.03 L459.85,202.08 L460.22,202.13 L460.58,202.19 L460.95,202.24 L461.31,202.29 L461.67,202.34 L462.04,202.39 L462.4,202.44 L462.77,202.49 L463.13,202.54 L463.49,202.59 L463.86,202.64 L464.22,202.68 L464.59,202.73 L464.95,202.78 L465.31,202.82 L465.68,202.87 L466.04,202.91 L466.41,202.96 L466.77,203 L467.14,203.04 L467.5,203.08 L467.86,203.13 L468.23,203.17 L468.59,203.21 L468.96,203.25 L469.32,203.28 L469.68,203.32 L470.05,203.36 L470.41,203.4 L470.78,203.43 L471.14,203.47 L471.5,203.5 L471.87,203.54 L472.23,203.57 L472.6,203.61 L472.96,203.64 L473.32,203.67 L473.69,203.7 L474.05,203.73 L474.42,203.76 L474.78,203.79 L475.15,203.82 L475.51,203.84 L475.87,203.87 L476.24,203.89 L476.6,203.92 L476.97,203.94 L477.33,203.97 L477.69,203.99 L478.06,204.01 L478.42,204.03 L478.79,204.05 L479.15,204.07 L479.51,204.09 L479.88,204.11 L480.24,204.13 L480.61,204.15 L480.97,204.17 L481.34,204.19 L481.7,204.21 L482.06,204.23 L482.43,204.25 L482.79,204.27 L483.16,204.29 L483.52,204.31 L483.88,204.32 L484.25,204.34 L484.61,204.36 L484.98,204.38 L485.34,204.4 L485.7,204.41 L486.07,204.43 L486.43,204.45 L486.8,204.46 L487.16,204.48 L487.53,204.5 L487.89,204.51 L488.25,204.53 L488.62,204.55 L488.98,204.56 L489.35,204.58 L489.71,204.59 L490.07,204.61 L490.44,204.62 L490.8,204.64 L491.17,204.65 L491.53,204.67 L491.89,204.68 L492.26,204.7 L492.62,204.71 L492.99,204.73 L493.35,204.74 L493.71,204.75 L494.08,204.77 L494.44,204.78 L494.81,204.79 L495.17,204.81 L495.54,204.82 L495.9,204.83 L496.26,204.85 L496.63,204.86 L496.99,204.87 L497.36,204.89 L497.72,204.9 L498.08,204.91 L498.45,204.92 L498.81,204.94 L499.18,204.95 L499.54,204.96 L499.9,204.97 L500.27,204.98 L500.63,204.99 L501,205.01 L501.36,205.02 L501.73,205.03 L502.09,205.04 L502.45,205.05 L502.82,205.06 L503.18,205.07 L503.55,205.08 L503.91,205.09 L504.27,205.1 L504.64,205.11 L505,205.12 L505.37,205.14 L505.73,205.15 L506.09,205.16 L506.46,205.17 L506.82,205.18 L507.19,205.19 L507.55,205.2 L507.92,205.21 L508.28,205.21 L508.64,205.22 L509.01,205.23 L509.37,205.24 L509.74,205.25 L510.1,205.26 L510.46,205.27 L510.83,205.28 L511.19,205.29 L511.56,205.3 L511.92,205.31 L512.28,205.32 L512.65,205.33 L513.01,205.33 L513.38,205.34 L513.74,205.35 L514.1,205.36 L514.47,205.37 L514.83,205.38 L515.2,205.39 L515.56,205.39 L515.93,205.4 L516.29,205.41 L516.65,205.42 L517.02,205.43 L517.38,205.44 L517.75,205.44 L518.11,205.45 L518.47,205.46 L518.84,205.47 L519.2,205.48 L519.57,205.48 L519.93,205.49 L520.29,205.5 L520.66,205.51 L521.02,205.52 L521.39,205.52 L521.75,205.53 L522.12,205.54 L522.48,205.55 L522.84,205.55 L523.21,205.56 L523.57,205.57 L523.94,205.58 L524.3,205.58 L524.66,205.59 L525.03,205.6 L525.39,205.6 L525.76,205.61 L526.12,205.62 L526.48,205.62 L526.85,205.63 L527.21,205.64 L527.58,205.64 L527.94,205.65 L528.31,205.66 L528.67,205.66 L529.03,205.67 L529.4,205.68 L529.76,205.68 L530.13,205.69 L530.49,205.69 L530.85,205.7 L531.22,205.7 L531.58,205.71 L531.95,205.72 L532.31,205.72 L532.67,205.73 L533.04,205.73 L533.4,205.74 L533.77,205.74 L534.13,205.75 L534.49,205.75 L534.86,205.76 L535.22,205.76 L535.59,205.77 L535.95,205.77 L536.32,205.78 L536.68,205.78 L537.04,205.78 L537.41,205.79 L537.77,205.79 L538.14,205.8 L538.5,205.8" fill="none" stroke="#4b8fc6" stroke-width="1.3" stroke-linejoin="round" stroke-linecap="round" clip-path="url(#cb)"/>
<path d="M320.4,28 L320.76,36.72 L321.13,41.77 L321.49,44.79 L321.86,47.08 L322.22,48.86 L322.58,50.34 L322.95,51.66 L323.31,52.82 L323.68,53.86 L324.04,54.79 L324.41,55.64 L324.77,56.44 L325.13,57.22 L325.5,57.99 L325.86,58.76 L326.23,59.48 L326.59,60.18 L326.95,60.84 L327.32,61.49 L327.68,62.11 L328.05,62.73 L328.41,63.33 L328.77,63.93 L329.14,64.54 L329.5,65.15 L329.87,65.77 L330.23,66.41 L330.59,67.06 L330.96,67.72 L331.32,68.4 L331.69,69.07 L332.05,69.75 L332.42,70.42 L332.78,71.09 L333.14,71.74 L333.51,72.37 L333.87,72.99 L334.24,73.58 L334.6,74.15 L334.96,74.68 L335.33,75.18 L335.69,75.64 L336.06,76.08 L336.42,76.51 L336.78,76.93 L337.15,77.33 L337.51,77.72 L337.88,78.09 L338.24,78.46 L338.61,78.81 L338.97,79.15 L339.33,79.48 L339.7,79.81 L340.06,80.12 L340.43,80.43 L340.79,80.73 L341.15,81.02 L341.52,81.31 L341.88,81.59 L342.25,81.86 L342.61,82.12 L342.97,82.38 L343.34,82.64 L343.7,82.89 L344.07,83.13 L344.43,83.37 L344.8,83.6 L345.16,83.83 L345.52,84.06 L345.89,84.29 L346.25,84.51 L346.62,84.73 L346.98,84.95 L347.34,85.17 L347.71,85.38 L348.07,85.6 L348.44,85.82 L348.8,86.03 L349.16,86.25 L349.53,86.47 L349.89,86.69 L350.26,86.91 L350.62,87.13 L350.98,87.35 L351.35,87.58 L351.71,87.81 L352.08,88.05 L352.44,88.29 L352.81,88.52 L353.17,88.76 L353.53,89 L353.9,89.24 L354.26,89.48 L354.63,89.71 L354.99,89.95 L355.35,90.19 L355.72,90.43 L356.08,90.67 L356.45,90.91 L356.81,91.15 L357.17,91.39 L357.54,91.63 L357.9,91.86 L358.27,92.1 L358.63,92.34 L359,92.58 L359.36,92.82 L359.72,93.06 L360.09,93.3 L360.45,93.54 L360.82,93.78 L361.18,94.01 L361.54,94.25 L361.91,94.49 L362.27,94.73 L362.64,94.96 L363,95.2 L363.36,95.44 L363.73,95.68 L364.09,95.91 L364.46,96.15 L364.82,96.39 L365.19,96.63 L365.55,96.87 L365.91,97.12 L366.28,97.36 L366.64,97.6 L367.01,97.84 L367.37,98.08 L367.73,98.32 L368.1,98.56 L368.46,98.8 L368.83,99.04 L369.19,99.28 L369.55,99.51 L369.92,99.75 L370.28,99.98 L370.65,100.22 L371.01,100.45 L371.37,100.68 L371.74,100.91 L372.1,101.14 L372.47,101.37 L372.83,101.59 L373.2,101.81 L373.56,102.04 L373.92,102.25 L374.29,102.47 L374.65,102.69 L375.02,102.91 L375.38,103.12 L375.74,103.34 L376.11,103.56 L376.47,103.77 L376.84,103.99 L377.2,104.2 L377.56,104.41 L377.93,104.62 L378.29,104.84 L378.66,105.05 L379.02,105.25 L379.39,105.46 L379.75,105.67 L380.11,105.87 L380.48,106.07 L380.84,106.27 L381.21,106.47 L381.57,106.67 L381.93,106.86 L382.3,107.05 L382.66,107.24 L383.03,107.43 L383.39,107.62 L383.75,107.8 L384.12,107.98 L384.48,108.15 L384.85,108.33 L385.21,108.5 L385.58,108.67 L385.94,108.83 L386.3,108.99 L386.67,109.15 L387.03,109.31 L387.4,109.47 L387.76,109.62 L388.12,109.77 L388.49,109.92 L388.85,110.07 L389.22,110.22 L389.58,110.36 L389.94,110.5 L390.31,110.65 L390.67,110.79 L391.04,110.93 L391.4,111.07 L391.76,111.21 L392.13,111.34 L392.49,111.48 L392.86,111.62 L393.22,111.75 L393.59,111.89 L393.95,112.03 L394.31,112.16 L394.68,112.3 L395.04,112.44 L395.41,112.58 L395.77,112.71 L396.13,112.85 L396.5,112.99 L396.86,113.13 L397.23,113.27 L397.59,113.42 L397.95,113.56 L398.32,113.71 L398.68,113.85 L399.05,114 L399.41,114.15 L399.78,114.31 L400.14,114.46 L400.5,114.62 L400.87,114.77 L401.23,114.93 L401.6,115.09 L401.96,115.25 L402.32,115.41 L402.69,115.58 L403.05,115.74 L403.42,115.91 L403.78,116.08 L404.14,116.24 L404.51,116.41 L404.87,116.58 L405.24,116.76 L405.6,116.93 L405.97,117.1 L406.33,117.27 L406.69,117.45 L407.06,117.62 L407.42,117.8 L407.79,117.98 L408.15,118.15 L408.51,118.33 L408.88,118.51 L409.24,118.69 L409.61,118.87 L409.97,119.05 L410.33,119.23 L410.7,119.41 L411.06,119.59 L411.43,119.77 L411.79,119.95 L412.15,120.14 L412.52,120.32 L412.88,120.5 L413.25,120.68 L413.61,120.86 L413.98,121.05 L414.34,121.23 L414.7,121.41 L415.07,121.59 L415.43,121.78 L415.8,121.96 L416.16,122.14 L416.52,122.32 L416.89,122.5 L417.25,122.68 L417.62,122.86 L417.98,123.04 L418.34,123.22 L418.71,123.4 L419.07,123.58 L419.44,123.76 L419.8,123.93 L420.17,124.11 L420.53,124.28 L420.89,124.46 L421.26,124.63 L421.62,124.81 L421.99,124.98 L422.35,125.15 L422.71,125.32 L423.08,125.49 L423.44,125.66 L423.81,125.83 L424.17,126 L424.53,126.16 L424.9,126.33 L425.26,126.49 L425.63,126.65 L425.99,126.81 L426.36,126.97 L426.72,127.13 L427.08,127.28 L427.45,127.44 L427.81,127.59 L428.18,127.75 L428.54,127.9 L428.9,128.05 L429.27,128.19 L429.63,128.34 L430,128.48 L430.36,128.62 L430.72,128.77 L431.09,128.9 L431.45,129.04 L431.82,129.18 L432.18,129.31 L432.54,129.44 L432.91,129.57 L433.27,129.7 L433.64,129.82 L434,129.95 L434.37,130.07 L434.73,130.2 L435.09,130.32 L435.46,130.45 L435.82,130.57 L436.19,130.69 L436.55,130.81 L436.91,130.93 L437.28,131.05 L437.64,131.17 L438.01,131.29 L438.37,131.41 L438.73,131.53 L439.1,131.65 L439.46,131.77 L439.83,131.88 L440.19,132 L440.56,132.11 L440.92,132.23 L441.28,132.34 L441.65,132.46 L442.01,132.57 L442.38,132.68 L442.74,132.79 L443.1,132.9 L443.47,133.02 L443.83,133.13 L444.2,133.24 L444.56,133.34 L444.92,133.45 L445.29,133.56 L445.65,133.67 L446.02,133.78 L446.38,133.88 L446.75,133.99 L447.11,134.09 L447.47,134.2 L447.84,134.3 L448.2,134.41 L448.57,134.51 L448.93,134.61 L449.29,134.72 L449.66,134.82 L450.02,134.92 L450.39,135.02 L450.75,135.12 L451.11,135.22 L451.48,135.32 L451.84,135.42 L452.21,135.51 L452.57,135.61 L452.93,135.71 L453.3,135.81 L453.66,135.9 L454.03,136 L454.39,136.09 L454.76,136.19 L455.12,136.28 L455.48,136.38 L455.85,136.47 L456.21,136.56 L456.58,136.65 L456.94,136.75 L457.3,136.84 L457.67,136.93 L458.03,137.02 L458.4,137.11 L458.76,137.2 L459.12,137.29 L459.49,137.38 L459.85,137.47 L460.22,137.55 L460.58,137.64 L460.95,137.73 L461.31,137.81 L461.67,137.9 L462.04,137.99 L462.4,138.07 L462.77,138.16 L463.13,138.24 L463.49,138.32 L463.86,138.41 L464.22,138.49 L464.59,138.57 L464.95,138.65 L465.31,138.74 L465.68,138.82 L466.04,138.9 L466.41,138.98 L466.77,139.06 L467.14,139.14 L467.5,139.22 L467.86,139.3 L468.23,139.37 L468.59,139.45 L468.96,139.53 L469.32,139.61 L469.68,139.68 L470.05,139.76 L470.41,139.83 L470.78,139.91 L471.14,139.98 L471.5,140.06 L471.87,140.13 L472.23,140.2 L472.6,140.28 L472.96,140.35 L473.32,140.42 L473.69,140.49 L474.05,140.57 L474.42,140.64 L474.78,140.71 L475.15,140.78 L475.51,140.85 L475.87,140.92 L476.24,140.99 L476.6,141.06 L476.97,141.12 L477.33,141.19 L477.69,141.26 L478.06,141.33 L478.42,141.4 L478.79,141.46 L479.15,141.53 L479.51,141.6 L479.88,141.66 L480.24,141.73 L480.61,141.79 L480.97,141.86 L481.34,141.92 L481.7,141.99 L482.06,142.05 L482.43,142.12 L482.79,142.18 L483.16,142.24 L483.52,142.31 L483.88,142.37 L484.25,142.43 L484.61,142.49 L484.98,142.56 L485.34,142.62 L485.7,142.68 L486.07,142.74 L486.43,142.8 L486.8,142.86 L487.16,142.92 L487.53,142.98 L487.89,143.04 L488.25,143.1 L488.62,143.16 L488.98,143.22 L489.35,143.28 L489.71,143.34 L490.07,143.4 L490.44,143.46 L490.8,143.52 L491.17,143.58 L491.53,143.64 L491.89,143.7 L492.26,143.75 L492.62,143.81 L492.99,143.87 L493.35,143.93 L493.71,143.99 L494.08,144.05 L494.44,144.11 L494.81,144.17 L495.17,144.23 L495.54,144.29 L495.9,144.35 L496.26,144.41 L496.63,144.47 L496.99,144.52 L497.36,144.58 L497.72,144.64 L498.08,144.7 L498.45,144.76 L498.81,144.82 L499.18,144.88 L499.54,144.94 L499.9,145 L500.27,145.05 L500.63,145.11 L501,145.17 L501.36,145.23 L501.73,145.28 L502.09,145.34 L502.45,145.4 L502.82,145.45 L503.18,145.51 L503.55,145.56 L503.91,145.62 L504.27,145.67 L504.64,145.73 L505,145.78 L505.37,145.83 L505.73,145.89 L506.09,145.94 L506.46,145.99 L506.82,146.04 L507.19,146.09 L507.55,146.14 L507.92,146.19 L508.28,146.24 L508.64,146.29 L509.01,146.34 L509.37,146.39 L509.74,146.43 L510.1,146.48 L510.46,146.53 L510.83,146.57 L511.19,146.61 L511.56,146.66 L511.92,146.7 L512.28,146.74 L512.65,146.78 L513.01,146.82 L513.38,146.86 L513.74,146.9 L514.1,146.94 L514.47,146.98 L514.83,147.01 L515.2,147.05 L515.56,147.08 L515.93,147.12 L516.29,147.15 L516.65,147.18 L517.02,147.21 L517.38,147.24 L517.75,147.27 L518.11,147.3 L518.47,147.33 L518.84,147.36 L519.2,147.39 L519.57,147.42 L519.93,147.45 L520.29,147.48 L520.66,147.51 L521.02,147.53 L521.39,147.56 L521.75,147.59 L522.12,147.62 L522.48,147.65 L522.84,147.67 L523.21,147.7 L523.57,147.73 L523.94,147.75 L524.3,147.78 L524.66,147.81 L525.03,147.83 L525.39,147.86 L525.76,147.88 L526.12,147.91 L526.48,147.93 L526.85,147.96 L527.21,147.98 L527.58,148 L527.94,148.03 L528.31,148.05 L528.67,148.07 L529.03,148.09 L529.4,148.12 L529.76,148.14 L530.13,148.16 L530.49,148.18 L530.85,148.2 L531.22,148.22 L531.58,148.24 L531.95,148.25 L532.31,148.27 L532.67,148.29 L533.04,148.31 L533.4,148.32 L533.77,148.34 L534.13,148.36 L534.49,148.37 L534.86,148.39 L535.22,148.4 L535.59,148.41 L535.95,148.43 L536.32,148.44 L536.68,148.45 L537.04,148.46 L537.41,148.47 L537.77,148.48 L538.14,148.49 L538.5,148.5" fill="none" stroke="#0d3a6e" stroke-width="1.5" stroke-linejoin="round" stroke-linecap="round" clip-path="url(#cb)"/>
<rect x="318.5" y="23.5" width="220" height="193" fill="none" stroke="#333" stroke-width="1" />
<line x1="320.5" y1="216.5" x2="320.5" y2="220.5" stroke="#404040" stroke-width="1" />
<text x="320.1" y="232.7" font-family='"Liberation Sans", sans-serif' font-size="12.5" text-anchor="middle" font-weight="normal" font-style="normal" fill="#1e1e1e" >0</text>
<line x1="374.5" y1="216.5" x2="374.5" y2="220.5" stroke="#404040" stroke-width="1" />
<text x="374.7" y="232.7" font-family='"Liberation Sans", sans-serif' font-size="12.5" text-anchor="middle" font-weight="normal" font-style="normal" fill="#1e1e1e" >5,000</text>
<line x1="429.5" y1="216.5" x2="429.5" y2="220.5" stroke="#404040" stroke-width="1" />
<text x="429.3" y="232.7" font-family='"Liberation Sans", sans-serif' font-size="12.5" text-anchor="middle" font-weight="normal" font-style="normal" fill="#1e1e1e" >10,000</text>
<line x1="483.5" y1="216.5" x2="483.5" y2="220.5" stroke="#404040" stroke-width="1" />
<text x="483.9" y="232.7" font-family='"Liberation Sans", sans-serif' font-size="12.5" text-anchor="middle" font-weight="normal" font-style="normal" fill="#1e1e1e" >15,000</text>
<line x1="538.5" y1="216.5" x2="538.5" y2="220.5" stroke="#404040" stroke-width="1" />
<text x="538.5" y="232.7" font-family='"Liberation Sans", sans-serif' font-size="12.5" text-anchor="middle" font-weight="normal" font-style="normal" fill="#1e1e1e" >20,000</text>
<line x1="347.5" y1="216.5" x2="347.5" y2="219" stroke="#404040" stroke-width="1" />
<line x1="402.5" y1="216.5" x2="402.5" y2="219" stroke="#404040" stroke-width="1" />
<line x1="456.5" y1="216.5" x2="456.5" y2="219" stroke="#404040" stroke-width="1" />
<line x1="511.5" y1="216.5" x2="511.5" y2="219" stroke="#404040" stroke-width="1" />
<line x1="314.5" y1="28.5" x2="318.5" y2="28.5" stroke="#404040" stroke-width="1" />
<line x1="316" y1="74.5" x2="318.5" y2="74.5" stroke="#404040" stroke-width="1" />
<line x1="316" y1="63.5" x2="318.5" y2="63.5" stroke="#404040" stroke-width="1" />
<line x1="316" y1="54.5" x2="318.5" y2="54.5" stroke="#404040" stroke-width="1" />
<line x1="316" y1="48.5" x2="318.5" y2="48.5" stroke="#404040" stroke-width="1" />
<line x1="316" y1="43.5" x2="318.5" y2="43.5" stroke="#404040" stroke-width="1" />
<line x1="316" y1="38.5" x2="318.5" y2="38.5" stroke="#404040" stroke-width="1" />
<line x1="316" y1="34.5" x2="318.5" y2="34.5" stroke="#404040" stroke-width="1" />
<line x1="316" y1="31.5" x2="318.5" y2="31.5" stroke="#404040" stroke-width="1" />
<line x1="314.5" y1="94.5" x2="318.5" y2="94.5" stroke="#404040" stroke-width="1" />
<line x1="316" y1="141.5" x2="318.5" y2="141.5" stroke="#404040" stroke-width="1" />
<line x1="316" y1="129.5" x2="318.5" y2="129.5" stroke="#404040" stroke-width="1" />
<line x1="316" y1="121.5" x2="318.5" y2="121.5" stroke="#404040" stroke-width="1" />
<line x1="316" y1="114.5" x2="318.5" y2="114.5" stroke="#404040" stroke-width="1" />
<line x1="316" y1="109.5" x2="318.5" y2="109.5" stroke="#404040" stroke-width="1" />
<line x1="316" y1="105.5" x2="318.5" y2="105.5" stroke="#404040" stroke-width="1" />
<line x1="316" y1="101.5" x2="318.5" y2="101.5" stroke="#404040" stroke-width="1" />
<line x1="316" y1="97.5" x2="318.5" y2="97.5" stroke="#404040" stroke-width="1" />
<line x1="314.5" y1="161.5" x2="318.5" y2="161.5" stroke="#404040" stroke-width="1" />
<line x1="316" y1="207.5" x2="318.5" y2="207.5" stroke="#404040" stroke-width="1" />
<line x1="316" y1="196.5" x2="318.5" y2="196.5" stroke="#404040" stroke-width="1" />
<line x1="316" y1="187.5" x2="318.5" y2="187.5" stroke="#404040" stroke-width="1" />
<line x1="316" y1="181.5" x2="318.5" y2="181.5" stroke="#404040" stroke-width="1" />
<line x1="316" y1="176.5" x2="318.5" y2="176.5" stroke="#404040" stroke-width="1" />
<line x1="316" y1="171.5" x2="318.5" y2="171.5" stroke="#404040" stroke-width="1" />
<line x1="316" y1="167.5" x2="318.5" y2="167.5" stroke="#404040" stroke-width="1" />
<line x1="316" y1="164.5" x2="318.5" y2="164.5" stroke="#404040" stroke-width="1" />
<text x="428.8" y="253.8" font-family='"Liberation Sans", sans-serif' font-size="13.8" text-anchor="middle" font-weight="normal" font-style="normal" fill="#1e1e1e" >Time (ns)</text>
<text x="303.3" y="118.3" font-family='"Liberation Sans", sans-serif' font-size="14" text-anchor="middle" font-weight="normal" font-style="normal" fill="#1e1e1e" transform="rotate(-90 303.3 118.3)" >PL intensity (Norm.)</text>
<line x1="334.6" y1="36.5" x2="363.9" y2="36.5" stroke="#6aaed6" stroke-width="2.0" />
<line x1="334.6" y1="54.5" x2="363.9" y2="54.5" stroke="#1f6aae" stroke-width="2.0" />
<text x="366.6" y="40.6" font-family='"Liberation Sans", sans-serif' font-size="12.3" fill="#1e1e1e">Control, &#964;<tspan font-size="7" dy="4.2">1</tspan><tspan dy="-4.2">=132 ns, </tspan>&#964;<tspan font-size="7" dy="4.2">2</tspan><tspan dy="-4.2">=1,882 ns</tspan></text>
<text x="366.6" y="58.8" font-family='"Liberation Sans", sans-serif' font-size="12.2" text-anchor="start" font-weight="normal" font-style="normal" fill="#1e1e1e" >Dipolar passivation,</text>
<text x="366.6" y="75.5" font-family='"Liberation Sans", sans-serif' font-size="12.2" fill="#1e1e1e">&#964;<tspan font-size="7" dy="4.2">1</tspan><tspan dy="-4.2">=43 ns, </tspan>&#964;<tspan font-size="7" dy="4.2">2</tspan><tspan dy="-4.2">=3,912 ns</tspan></text>
<text x="563.2" y="14.2" font-family='"Liberation Sans", sans-serif' font-size="19.5" text-anchor="start" font-weight="bold" font-style="normal" fill="#000" >c</text>
<rect x="638.8" y="119.3" width="11.7" height="98.2" fill="#6aaed6" stroke="#4a4a4a" stroke-width="0.7" />
<rect x="655.2" y="53.4" width="11.6" height="164.1" fill="#2171b5" stroke="#4a4a4a" stroke-width="0.7" />
<rect x="689.5" y="204.3" width="11.6" height="13.2" fill="#6aaed6" stroke="#4a4a4a" stroke-width="0.7" />
<rect x="705.6" y="195.8" width="11.7" height="21.7" fill="#2171b5" stroke="#4a4a4a" stroke-width="0.7" />
<rect x="739.5" y="114.1" width="12.1" height="103.4" fill="#6aaed6" stroke="#4a4a4a" stroke-width="0.7" />
<rect x="756.3" y="84.6" width="11.9" height="132.9" fill="#2171b5" stroke="#4a4a4a" stroke-width="0.7" />
<rect x="611.5" y="22.5" width="184" height="195" fill="none" stroke="#666" stroke-width="1" />
<line x1="607.5" y1="217.5" x2="611.5" y2="217.5" stroke="#666" stroke-width="1" />
<text x="604.6" y="222" font-family='"Liberation Sans", sans-serif' font-size="12.2" text-anchor="end" font-weight="normal" font-style="normal" fill="#1e1e1e" >0</text>
<line x1="607.5" y1="188.5" x2="611.5" y2="188.5" stroke="#666" stroke-width="1" />
<text x="604.6" y="193.2" font-family='"Liberation Sans", sans-serif' font-size="12.2" text-anchor="end" font-weight="normal" font-style="normal" fill="#1e1e1e" >20</text>
<line x1="607.5" y1="159.5" x2="611.5" y2="159.5" stroke="#666" stroke-width="1" />
<text x="604.6" y="164.4" font-family='"Liberation Sans", sans-serif' font-size="12.2" text-anchor="end" font-weight="normal" font-style="normal" fill="#1e1e1e" >40</text>
<line x1="607.5" y1="131.5" x2="611.5" y2="131.5" stroke="#666" stroke-width="1" />
<text x="604.6" y="135.6" font-family='"Liberation Sans", sans-serif' font-size="12.2" text-anchor="end" font-weight="normal" font-style="normal" fill="#1e1e1e" >60</text>
<line x1="607.5" y1="102.5" x2="611.5" y2="102.5" stroke="#666" stroke-width="1" />
<text x="604.6" y="106.8" font-family='"Liberation Sans", sans-serif' font-size="12.2" text-anchor="end" font-weight="normal" font-style="normal" fill="#1e1e1e" >80</text>
<line x1="607.5" y1="73.5" x2="611.5" y2="73.5" stroke="#666" stroke-width="1" />
<text x="604.6" y="78" font-family='"Liberation Sans", sans-serif' font-size="12.2" text-anchor="end" font-weight="normal" font-style="normal" fill="#1e1e1e" >100</text>
<line x1="607.5" y1="44.5" x2="611.5" y2="44.5" stroke="#666" stroke-width="1" />
<text x="604.6" y="49.2" font-family='"Liberation Sans", sans-serif' font-size="12.2" text-anchor="end" font-weight="normal" font-style="normal" fill="#1e1e1e" >120</text>
<line x1="609" y1="203.5" x2="611.5" y2="203.5" stroke="#666" stroke-width="1" />
<line x1="609" y1="174.5" x2="611.5" y2="174.5" stroke="#666" stroke-width="1" />
<line x1="609" y1="145.5" x2="611.5" y2="145.5" stroke="#666" stroke-width="1" />
<line x1="609" y1="116.5" x2="611.5" y2="116.5" stroke="#666" stroke-width="1" />
<line x1="609" y1="87.5" x2="611.5" y2="87.5" stroke="#666" stroke-width="1" />
<line x1="609" y1="59.5" x2="611.5" y2="59.5" stroke="#666" stroke-width="1" />
<line x1="609" y1="30.5" x2="611.5" y2="30.5" stroke="#666" stroke-width="1" />
<line x1="795.5" y1="217.5" x2="799.5" y2="217.5" stroke="#666" stroke-width="1" />
<text x="802.6" y="222.2" font-family='"Liberation Sans", sans-serif' font-size="12.2" text-anchor="start" font-weight="normal" font-style="normal" fill="#1e1e1e" >0</text>
<line x1="795.5" y1="173.5" x2="799.5" y2="173.5" stroke="#666" stroke-width="1" />
<text x="802.6" y="178.5" font-family='"Liberation Sans", sans-serif' font-size="12.2" text-anchor="start" font-weight="normal" font-style="normal" fill="#1e1e1e" >2</text>
<line x1="795.5" y1="130.5" x2="799.5" y2="130.5" stroke="#666" stroke-width="1" />
<text x="802.6" y="134.8" font-family='"Liberation Sans", sans-serif' font-size="12.2" text-anchor="start" font-weight="normal" font-style="normal" fill="#1e1e1e" >4</text>
<line x1="795.5" y1="86.5" x2="799.5" y2="86.5" stroke="#666" stroke-width="1" />
<text x="802.6" y="91.1" font-family='"Liberation Sans", sans-serif' font-size="12.2" text-anchor="start" font-weight="normal" font-style="normal" fill="#1e1e1e" >6</text>
<line x1="795.5" y1="42.5" x2="799.5" y2="42.5" stroke="#666" stroke-width="1" />
<text x="802.6" y="47.4" font-family='"Liberation Sans", sans-serif' font-size="12.2" text-anchor="start" font-weight="normal" font-style="normal" fill="#1e1e1e" >8</text>
<line x1="795.5" y1="195.5" x2="798" y2="195.5" stroke="#666" stroke-width="1" />
<line x1="795.5" y1="151.5" x2="798" y2="151.5" stroke="#666" stroke-width="1" />
<line x1="795.5" y1="108.5" x2="798" y2="108.5" stroke="#666" stroke-width="1" />
<line x1="795.5" y1="64.5" x2="798" y2="64.5" stroke="#666" stroke-width="1" />
<rect x="676.7" y="27" width="21.1" height="10" fill="#6aaed6" stroke="#4a4a4a" stroke-width="0.7" />
<rect x="676.7" y="41.2" width="21.1" height="10.2" fill="#2171b5" stroke="#4a4a4a" stroke-width="0.7" />
<text x="699.8" y="36.7" font-family='"Liberation Sans", sans-serif' font-size="11.2" text-anchor="start" font-weight="normal" font-style="normal" fill="#1e1e1e" >Control</text>
<text x="699.8" y="50.7" font-family='"Liberation Sans", sans-serif' font-size="11.1" text-anchor="start" font-weight="normal" font-style="normal" fill="#1e1e1e" >Dipolar passivation</text>
<line x1="643" y1="48.5" x2="634.5" y2="48.5" stroke="#111" stroke-width="1.1" />
<path d="M631.5,48.1 L636.5,45.6 L635.5,48.1 L636.5,50.6 Z" fill="#111"/>
<text x="646.3" y="45.4" font-family='"Liberation Sans", sans-serif' font-size="11.5" text-anchor="start" font-weight="normal" font-style="normal" fill="#1e1e1e" >&#956;</text>
<text x="653" y="49.8" font-family='"Liberation Sans", sans-serif' font-size="7.5" text-anchor="start" font-weight="normal" font-style="normal" fill="#1e1e1e" >dc</text>
<line x1="695.9" y1="188.5" x2="686.9" y2="188.5" stroke="#111" stroke-width="1.1" />
<path d="M683.9,188.4 L688.9,185.9 L687.9,188.4 L688.9,190.9 Z" fill="#111"/>
<text x="698.5" y="185.6" font-family='"Liberation Sans", sans-serif' font-size="11.5" text-anchor="start" font-weight="normal" font-style="normal" fill="#1e1e1e" >&#956;</text>
<text x="705.3" y="189.9" font-family='"Liberation Sans", sans-serif' font-size="7.5" text-anchor="start" font-weight="normal" font-style="normal" fill="#1e1e1e" >e,h</text>
<text x="747.6" y="75.9" font-family='"Liberation Sans", sans-serif' font-size="11.8" text-anchor="start" font-weight="normal" font-style="italic" fill="#1e1e1e" >L</text>
<text x="755" y="79.6" font-family='"Liberation Sans", sans-serif' font-size="7.5" text-anchor="start" font-weight="normal" font-style="normal" fill="#1e1e1e" >d</text>
<line x1="764" y1="79.5" x2="772.4" y2="79.5" stroke="#111" stroke-width="1.1" />
<path d="M775.4,79.3 L770.4,76.8 L771.4,79.3 L770.4,81.8 Z" fill="#111"/>
<text x="581.5" y="119.9" font-family='"Liberation Sans", sans-serif' font-size="12.3" fill="#1e1e1e" text-anchor="middle" transform="rotate(-90 581.5 119.9)">Mobility (cm<tspan font-size="7.5" dy="-5.6">2</tspan><tspan dy="5.6"> V</tspan><tspan font-size="7.5" dy="-5.6">-1</tspan><tspan dy="5.6"> s</tspan><tspan font-size="7.5" dy="-5.6">-1</tspan><tspan dy="5.6">)</tspan></text>
<text x="819.1" y="119.4" font-family='"Liberation Sans", sans-serif' font-size="12" text-anchor="middle" font-weight="normal" font-style="normal" fill="#1e1e1e" transform="rotate(90 819.1 119.4)" >Diffusion length (&#956;m)</text>
<text x="3.6" y="301.7" font-family='"Liberation Sans", sans-serif' font-size="20" text-anchor="start" font-weight="bold" font-style="normal" fill="#000" >d</text>
<defs><clipPath id="cd"><rect x="37.5" y="311.5" width="221.0" height="193.0"/></clipPath></defs>
<line x1="154.2" y1="311.5" x2="154.2" y2="504.5" stroke="#b0b0b0" stroke-width="0.8" stroke-dasharray="1.2,1.8"/>
<g clip-path="url(#cd)">
<path d="M37,498 L38.2,494.8 L44.3,471.8 L56.8,461 L77.1,458.6 L109,449.6 L153.1,447.6 L211.9,443.8 L262,443" fill="none" stroke="#6aaed6" stroke-width="1.4" stroke-linejoin="round" stroke-linecap="round" />
<path d="M36,404 L39.4,399.4 L49.8,381.4 L66,370 L88.5,366.2 L116.9,368.9 L149.8,369.4 L187.7,370.4 L228.2,372.1 L262,375" fill="none" stroke="#2a74b8" stroke-width="1.5" stroke-linejoin="round" stroke-linecap="round" />
<circle cx="38.2" cy="494.8" r="3.1" fill="#fff" stroke="#5ea3d3" stroke-width="1.5"/>
<circle cx="44.3" cy="471.8" r="3.1" fill="#fff" stroke="#5ea3d3" stroke-width="1.5"/>
<circle cx="56.8" cy="461" r="3.1" fill="#fff" stroke="#5ea3d3" stroke-width="1.5"/>
<circle cx="77.1" cy="458.6" r="3.1" fill="#fff" stroke="#5ea3d3" stroke-width="1.5"/>
<circle cx="109" cy="449.6" r="3.1" fill="#fff" stroke="#5ea3d3" stroke-width="1.5"/>
<circle cx="153.1" cy="447.6" r="3.1" fill="#fff" stroke="#5ea3d3" stroke-width="1.5"/>
<circle cx="211.9" cy="443.8" r="3.1" fill="#fff" stroke="#5ea3d3" stroke-width="1.5"/>
<circle cx="39.4" cy="399.4" r="3.9" fill="#2a74b8"/>
<circle cx="49.8" cy="381.4" r="3.9" fill="#2a74b8"/>
<circle cx="66" cy="370" r="3.9" fill="#2a74b8"/>
<circle cx="88.5" cy="366.2" r="3.9" fill="#2a74b8"/>
<circle cx="116.9" cy="368.9" r="3.9" fill="#2a74b8"/>
<circle cx="149.8" cy="369.4" r="3.9" fill="#2a74b8"/>
<circle cx="187.7" cy="370.4" r="3.9" fill="#2a74b8"/>
<circle cx="228.2" cy="372.1" r="3.9" fill="#2a74b8"/>
</g>
<rect x="37.5" y="311.5" width="221" height="193" fill="none" stroke="#444" stroke-width="1" />
<line x1="33.5" y1="488.5" x2="37.5" y2="488.5" stroke="#404040" stroke-width="1" />
<text x="30.6" y="492.5" font-family='"Liberation Sans", sans-serif' font-size="12.5" text-anchor="end" font-weight="normal" font-style="normal" fill="#1e1e1e" >0</text>
<line x1="33.5" y1="454.5" x2="37.5" y2="454.5" stroke="#404040" stroke-width="1" />
<text x="30.6" y="458.76" font-family='"Liberation Sans", sans-serif' font-size="12.5" text-anchor="end" font-weight="normal" font-style="normal" fill="#1e1e1e" >2</text>
<line x1="33.5" y1="420.5" x2="37.5" y2="420.5" stroke="#404040" stroke-width="1" />
<text x="30.6" y="425.02" font-family='"Liberation Sans", sans-serif' font-size="12.5" text-anchor="end" font-weight="normal" font-style="normal" fill="#1e1e1e" >4</text>
<line x1="33.5" y1="386.5" x2="37.5" y2="386.5" stroke="#404040" stroke-width="1" />
<text x="30.6" y="391.28" font-family='"Liberation Sans", sans-serif' font-size="12.5" text-anchor="end" font-weight="normal" font-style="normal" fill="#1e1e1e" >6</text>
<line x1="33.5" y1="353.5" x2="37.5" y2="353.5" stroke="#404040" stroke-width="1" />
<text x="30.6" y="357.54" font-family='"Liberation Sans", sans-serif' font-size="12.5" text-anchor="end" font-weight="normal" font-style="normal" fill="#1e1e1e" >8</text>
<line x1="33.5" y1="319.5" x2="37.5" y2="319.5" stroke="#404040" stroke-width="1" />
<text x="30.6" y="323.8" font-family='"Liberation Sans", sans-serif' font-size="12.5" text-anchor="end" font-weight="normal" font-style="normal" fill="#1e1e1e" >10</text>
<line x1="35" y1="471.5" x2="37.5" y2="471.5" stroke="#404040" stroke-width="1" />
<line x1="35" y1="437.5" x2="37.5" y2="437.5" stroke="#404040" stroke-width="1" />
<line x1="35" y1="403.5" x2="37.5" y2="403.5" stroke="#404040" stroke-width="1" />
<line x1="35" y1="370.5" x2="37.5" y2="370.5" stroke="#404040" stroke-width="1" />
<line x1="35" y1="336.5" x2="37.5" y2="336.5" stroke="#404040" stroke-width="1" />
<line x1="65.5" y1="504.5" x2="65.5" y2="508.5" stroke="#404040" stroke-width="1" />
<text x="65.26" y="521.6" font-family='"Liberation Sans", sans-serif' font-size="12.5" text-anchor="middle" font-weight="normal" font-style="normal" fill="#1e1e1e" >10</text>
<line x1="103.5" y1="504.5" x2="103.5" y2="508.5" stroke="#404040" stroke-width="1" />
<text x="103.92" y="521.6" font-family='"Liberation Sans", sans-serif' font-size="12.5" text-anchor="middle" font-weight="normal" font-style="normal" fill="#1e1e1e" >20</text>
<line x1="142.5" y1="504.5" x2="142.5" y2="508.5" stroke="#404040" stroke-width="1" />
<text x="142.58" y="521.6" font-family='"Liberation Sans", sans-serif' font-size="12.5" text-anchor="middle" font-weight="normal" font-style="normal" fill="#1e1e1e" >30</text>
<line x1="181.5" y1="504.5" x2="181.5" y2="508.5" stroke="#404040" stroke-width="1" />
<text x="181.24" y="521.6" font-family='"Liberation Sans", sans-serif' font-size="12.5" text-anchor="middle" font-weight="normal" font-style="normal" fill="#1e1e1e" >40</text>
<line x1="219.5" y1="504.5" x2="219.5" y2="508.5" stroke="#404040" stroke-width="1" />
<text x="219.9" y="521.6" font-family='"Liberation Sans", sans-serif' font-size="12.5" text-anchor="middle" font-weight="normal" font-style="normal" fill="#1e1e1e" >50</text>
<line x1="258.5" y1="504.5" x2="258.5" y2="508.5" stroke="#404040" stroke-width="1" />
<text x="258.56" y="521.6" font-family='"Liberation Sans", sans-serif' font-size="12.5" text-anchor="middle" font-weight="normal" font-style="normal" fill="#1e1e1e" >60</text>
<line x1="45.5" y1="504.5" x2="45.5" y2="507" stroke="#404040" stroke-width="1" />
<line x1="84.5" y1="504.5" x2="84.5" y2="507" stroke="#404040" stroke-width="1" />
<line x1="123.5" y1="504.5" x2="123.5" y2="507" stroke="#404040" stroke-width="1" />
<line x1="161.5" y1="504.5" x2="161.5" y2="507" stroke="#404040" stroke-width="1" />
<line x1="200.5" y1="504.5" x2="200.5" y2="507" stroke="#404040" stroke-width="1" />
<line x1="239.5" y1="504.5" x2="239.5" y2="507" stroke="#404040" stroke-width="1" />
<text x="148.1" y="539.8" font-family='"Liberation Sans", sans-serif' font-size="13.5" fill="#1e1e1e" text-anchor="middle">Current density (mA cm<tspan font-size="8.5" dy="-5.5">-2</tspan><tspan dy="5.5">)</tspan></text>
<text x="15.6" y="406.6" font-family='"Liberation Sans", sans-serif' font-size="13.7" fill="#1e1e1e" text-anchor="middle" transform="rotate(-90 15.6 406.6)">EQE<tspan font-size="8" dy="4.3">EL</tspan><tspan dy="-4.3">(%)</tspan></text>
<line x1="49.1" y1="323.4" x2="76" y2="323.4" stroke="#6aaed6" stroke-width="1.4" />
<line x1="49.1" y1="337.7" x2="76" y2="337.7" stroke="#2a74b8" stroke-width="1.5" />
<circle cx="62.9" cy="323.4" r="3.1" fill="#fff" stroke="#5ea3d3" stroke-width="1.5"/>
<circle cx="62.9" cy="337.7" r="3.9" fill="#2a74b8"/>
<text x="80.1" y="327" font-family='"Liberation Sans", sans-serif' font-size="11.9" text-anchor="start" font-weight="normal" font-style="normal" fill="#1e1e1e" >Control</text>
<text x="80.2" y="341.3" font-family='"Liberation Sans", sans-serif' font-size="11.7" text-anchor="start" font-weight="normal" font-style="normal" fill="#1e1e1e" >Dipolar passivation</text>
<text x="157.3" y="362" font-family='"Liberation Sans", sans-serif' font-size="12.5" text-anchor="start" font-weight="normal" font-style="normal" fill="#1e1e1e" >7.05%</text>
<text x="157.9" y="440.3" font-family='"Liberation Sans", sans-serif' font-size="12.5" text-anchor="start" font-weight="normal" font-style="normal" fill="#1e1e1e" >2.40%</text>
<text x="76.1" y="496.4" font-family='"Liberation Sans", sans-serif' font-size="12.9" fill="#1e1e1e"><tspan font-style="italic">J</tspan><tspan font-size="7.8" dy="3.1">sc</tspan><tspan dy="-3.1"> (AM 1.5G) ~33 mA cm</tspan><tspan font-size="7.8" dy="-4.5">-2</tspan></text>
<text x="279.5" y="302" font-family='"Liberation Sans", sans-serif' font-size="19" text-anchor="start" font-weight="bold" font-style="normal" fill="#000" >e</text>
<rect x="328.5" y="339.38" width="20.4" height="165.12" fill="#6aaed6" stroke="none" stroke-width="0" />
<rect x="370.3" y="388.34" width="20.3" height="116.16" fill="#2171b5" stroke="none" stroke-width="0" />
<rect x="317.5" y="312.5" width="84" height="192" fill="none" stroke="#606060" stroke-width="1" />
<line x1="313.5" y1="504.5" x2="317.5" y2="504.5" stroke="#404040" stroke-width="1" />
<text x="311.4" y="508.7" font-family='"Liberation Sans", sans-serif' font-size="11.6" text-anchor="end" font-weight="normal" font-style="normal" fill="#1e1e1e" >0</text>
<line x1="313.5" y1="472.5" x2="317.5" y2="472.5" stroke="#404040" stroke-width="1" />
<text x="311.4" y="476.7" font-family='"Liberation Sans", sans-serif' font-size="11.6" text-anchor="end" font-weight="normal" font-style="normal" fill="#1e1e1e" >20</text>
<line x1="313.5" y1="440.5" x2="317.5" y2="440.5" stroke="#404040" stroke-width="1" />
<text x="311.4" y="444.7" font-family='"Liberation Sans", sans-serif' font-size="11.6" text-anchor="end" font-weight="normal" font-style="normal" fill="#1e1e1e" >40</text>
<line x1="313.5" y1="408.5" x2="317.5" y2="408.5" stroke="#404040" stroke-width="1" />
<text x="311.4" y="412.7" font-family='"Liberation Sans", sans-serif' font-size="11.6" text-anchor="end" font-weight="normal" font-style="normal" fill="#1e1e1e" >60</text>
<line x1="313.5" y1="376.5" x2="317.5" y2="376.5" stroke="#404040" stroke-width="1" />
<text x="311.4" y="380.7" font-family='"Liberation Sans", sans-serif' font-size="11.6" text-anchor="end" font-weight="normal" font-style="normal" fill="#1e1e1e" >80</text>
<line x1="313.5" y1="344.5" x2="317.5" y2="344.5" stroke="#404040" stroke-width="1" />
<text x="311.4" y="348.7" font-family='"Liberation Sans", sans-serif' font-size="11.6" text-anchor="end" font-weight="normal" font-style="normal" fill="#1e1e1e" >100</text>
<line x1="313.5" y1="312.5" x2="317.5" y2="312.5" stroke="#404040" stroke-width="1" />
<text x="311.4" y="316.7" font-family='"Liberation Sans", sans-serif' font-size="11.6" text-anchor="end" font-weight="normal" font-style="normal" fill="#1e1e1e" >120</text>
<line x1="315" y1="488.5" x2="317.5" y2="488.5" stroke="#404040" stroke-width="1" />
<line x1="315" y1="456.5" x2="317.5" y2="456.5" stroke="#404040" stroke-width="1" />
<line x1="315" y1="424.5" x2="317.5" y2="424.5" stroke="#404040" stroke-width="1" />
<line x1="315" y1="392.5" x2="317.5" y2="392.5" stroke="#404040" stroke-width="1" />
<line x1="315" y1="360.5" x2="317.5" y2="360.5" stroke="#404040" stroke-width="1" />
<line x1="315" y1="328.5" x2="317.5" y2="328.5" stroke="#404040" stroke-width="1" />
<text x="340.4" y="333.5" font-family='"Liberation Sans", sans-serif' font-size="11.8" text-anchor="middle" font-weight="normal" font-style="normal" fill="#1e1e1e" >103 mV</text>
<text x="381" y="383.5" font-family='"Liberation Sans", sans-serif' font-size="11.8" text-anchor="middle" font-weight="normal" font-style="normal" fill="#1e1e1e" >73 mV</text>
<text x="334.8" y="521" font-family='"Liberation Sans", sans-serif' font-size="11.8" text-anchor="middle" font-weight="normal" font-style="normal" fill="#1e1e1e" >Control</text>
<text x="383.2" y="521" font-family='"Liberation Sans", sans-serif' font-size="11.8" text-anchor="middle" font-weight="normal" font-style="normal" fill="#1e1e1e" >Dipolar</text>
<text x="384.2" y="534.6" font-family='"Liberation Sans", sans-serif' font-size="11.8" text-anchor="middle" font-weight="normal" font-style="normal" fill="#1e1e1e" >passivation</text>
<text x="284.9" y="406.6" font-family='"Liberation Sans", sans-serif' font-size="13" fill="#1e1e1e" text-anchor="middle" transform="rotate(-90 284.9 406.6)"><tspan font-style="italic">V</tspan><tspan font-size="7.5" dy="3.8">oc, rad</tspan><tspan dy="-3.8"> - </tspan><tspan font-style="italic">V</tspan><tspan font-size="7.5" dy="3.8">oc</tspan><tspan dy="-3.8"> (mV)</tspan></text>
<text x="457.2" y="299.4" font-family='"Liberation Sans", sans-serif' font-size="19.5" text-anchor="start" font-weight="bold" font-style="normal" fill="#000" >f</text>
<line x1="509.5" y1="348.5" x2="773.5" y2="348.5" stroke="#e6e6e6" stroke-width="0.8" />
<rect x="510.2" y="320.4" width="120.8" height="20.8" fill="#d2d2d2" stroke="none" stroke-width="0" />
<rect x="631" y="320.4" width="32.3" height="20.8" fill="#2171b5" stroke="none" stroke-width="0" />
<rect x="663.3" y="320.4" width="30.7" height="20.8" fill="#6aaed6" stroke="none" stroke-width="0" />
<rect x="694" y="320.4" width="35.2" height="20.8" fill="#b6e1fb" stroke="none" stroke-width="0" />
<rect x="510.2" y="354.9" width="79.9" height="21.1" fill="#d2d2d2" stroke="none" stroke-width="0" />
<rect x="590.1" y="354.9" width="33.4" height="21.1" fill="#2171b5" stroke="none" stroke-width="0" />
<rect x="623.5" y="354.9" width="59.4" height="21.1" fill="#6aaed6" stroke="none" stroke-width="0" />
<rect x="682.9" y="354.9" width="46.3" height="21.1" fill="#b6e1fb" stroke="none" stroke-width="0" />
<rect x="509.5" y="313.5" width="264" height="69" fill="none" stroke="#333" stroke-width="1.1" />
<line x1="509.5" y1="382.5" x2="509.5" y2="386.5" stroke="#404040" stroke-width="1" />
<text x="509.2" y="397.4" font-family='"Liberation Sans", sans-serif' font-size="11.2" text-anchor="middle" font-weight="normal" font-style="normal" fill="#1e1e1e" >0.80</text>
<line x1="564.5" y1="382.5" x2="564.5" y2="386.5" stroke="#404040" stroke-width="1" />
<text x="564.2" y="397.4" font-family='"Liberation Sans", sans-serif' font-size="11.2" text-anchor="middle" font-weight="normal" font-style="normal" fill="#1e1e1e" >0.85</text>
<line x1="619.5" y1="382.5" x2="619.5" y2="386.5" stroke="#404040" stroke-width="1" />
<text x="619.2" y="397.4" font-family='"Liberation Sans", sans-serif' font-size="11.2" text-anchor="middle" font-weight="normal" font-style="normal" fill="#1e1e1e" >0.90</text>
<line x1="674.5" y1="382.5" x2="674.5" y2="386.5" stroke="#404040" stroke-width="1" />
<text x="674.2" y="397.4" font-family='"Liberation Sans", sans-serif' font-size="11.2" text-anchor="middle" font-weight="normal" font-style="normal" fill="#1e1e1e" >0.95</text>
<line x1="729.5" y1="382.5" x2="729.5" y2="386.5" stroke="#404040" stroke-width="1" />
<text x="729.2" y="397.4" font-family='"Liberation Sans", sans-serif' font-size="11.2" text-anchor="middle" font-weight="normal" font-style="normal" fill="#1e1e1e" >1.00</text>
<line x1="536.5" y1="382.5" x2="536.5" y2="385" stroke="#404040" stroke-width="1" />
<line x1="591.5" y1="382.5" x2="591.5" y2="385" stroke="#404040" stroke-width="1" />
<line x1="646.5" y1="382.5" x2="646.5" y2="385" stroke="#404040" stroke-width="1" />
<line x1="701.5" y1="382.5" x2="701.5" y2="385" stroke="#404040" stroke-width="1" />
<line x1="756.5" y1="382.5" x2="756.5" y2="385" stroke="#404040" stroke-width="1" />
<text x="641.5" y="411.8" font-family='"Liberation Sans", sans-serif' font-size="12.4" fill="#1e1e1e" text-anchor="middle">QFLS, <tspan font-style="italic">q V</tspan><tspan font-size="7.5" dy="4">oc</tspan><tspan dy="-4"> (eV)</tspan></text>
<text x="479.4" y="328.2" font-family='"Liberation Sans", sans-serif' font-size="10.8" text-anchor="middle" font-weight="normal" font-style="normal" fill="#1e1e1e" >Dipolar</text>
<text x="479.6" y="340.6" font-family='"Liberation Sans", sans-serif' font-size="10.8" text-anchor="middle" font-weight="normal" font-style="normal" fill="#1e1e1e" >passivation</text>
<text x="504.3" y="369" font-family='"Liberation Sans", sans-serif' font-size="11.8" text-anchor="end" font-weight="normal" font-style="normal" fill="#1e1e1e" >Control</text>
<text x="779" y="321.2" font-family='"Liberation Sans", sans-serif' font-size="11.7" text-anchor="start" font-weight="normal" font-style="normal" fill="#1e1e1e" >Loss from</text>
<rect x="777.7" y="326.6" width="15.2" height="13.6" fill="#b6e1fb" stroke="none" stroke-width="0" />
<text x="796.9" y="337.1" font-family='"Liberation Sans", sans-serif' font-size="12" text-anchor="start" font-weight="normal" font-style="normal" fill="#1e1e1e" >Bulk</text>
<rect x="777.7" y="341.2" width="15.2" height="13.8" fill="#6aaed6" stroke="none" stroke-width="0" />
<text x="796.9" y="351.4" font-family='"Liberation Sans", sans-serif' font-size="12" text-anchor="start" font-weight="normal" font-style="normal" fill="#1e1e1e" >HTL</text>
<rect x="777.7" y="355.9" width="15.2" height="13.3" fill="#2171b5" stroke="none" stroke-width="0" />
<text x="796.9" y="366" font-family='"Liberation Sans", sans-serif' font-size="12" text-anchor="start" font-weight="normal" font-style="normal" fill="#1e1e1e" >ETL</text>
<rect x="777.7" y="370" width="15.2" height="12.6" fill="#d2d2d2" stroke="none" stroke-width="0" />
<text x="796.9" y="380.7" font-family='"Liberation Sans", sans-serif' font-size="12" fill="#1e1e1e"><tspan font-style="italic">V</tspan><tspan font-size="7.5" dy="4.2">oc</tspan></text>
<rect x="528.8" y="446.52" width="26.3" height="56.98" fill="#d2d2d2" stroke="none" stroke-width="0" />
<rect x="594.5" y="488.1" width="26.3" height="15.4" fill="#b6e1fb" stroke="none" stroke-width="0" />
<rect x="660" y="463.46" width="26.6" height="40.04" fill="#4292c6" stroke="none" stroke-width="0" />
<rect x="725.9" y="501.96" width="26.3" height="1.54" fill="#08306b" stroke="none" stroke-width="0" />
<rect x="509.5" y="426.5" width="263" height="77" fill="none" stroke="#505050" stroke-width="1" />
<line x1="505.5" y1="503.5" x2="509.5" y2="503.5" stroke="#404040" stroke-width="1" />
<text x="503.6" y="507.4" font-family='"Liberation Sans", sans-serif' font-size="11.2" text-anchor="end" font-weight="normal" font-style="normal" fill="#1e1e1e" >0</text>
<line x1="505.5" y1="472.5" x2="509.5" y2="472.5" stroke="#404040" stroke-width="1" />
<text x="503.6" y="476.6" font-family='"Liberation Sans", sans-serif' font-size="11.2" text-anchor="end" font-weight="normal" font-style="normal" fill="#1e1e1e" >20</text>
<line x1="505.5" y1="441.5" x2="509.5" y2="441.5" stroke="#404040" stroke-width="1" />
<text x="503.6" y="445.8" font-family='"Liberation Sans", sans-serif' font-size="11.2" text-anchor="end" font-weight="normal" font-style="normal" fill="#1e1e1e" >40</text>
<line x1="507" y1="488.5" x2="509.5" y2="488.5" stroke="#404040" stroke-width="1" />
<line x1="507" y1="457.5" x2="509.5" y2="457.5" stroke="#404040" stroke-width="1" />
<line x1="541.5" y1="503.5" x2="541.5" y2="507.5" stroke="#404040" stroke-width="1" />
<line x1="574.5" y1="503.5" x2="574.5" y2="506" stroke="#404040" stroke-width="1" />
<line x1="607.5" y1="503.5" x2="607.5" y2="507.5" stroke="#404040" stroke-width="1" />
<line x1="640.5" y1="503.5" x2="640.5" y2="506" stroke="#404040" stroke-width="1" />
<line x1="673.5" y1="503.5" x2="673.5" y2="507.5" stroke="#404040" stroke-width="1" />
<line x1="706.5" y1="503.5" x2="706.5" y2="506" stroke="#404040" stroke-width="1" />
<line x1="739.5" y1="503.5" x2="739.5" y2="507.5" stroke="#404040" stroke-width="1" />
<line x1="772.5" y1="503.5" x2="772.5" y2="506" stroke="#404040" stroke-width="1" />
<text x="541.7" y="440.3" font-family='"Liberation Sans", sans-serif' font-size="10.2" text-anchor="middle" font-weight="normal" font-style="normal" fill="#1e1e1e" >37 meV</text>
<text x="608.4" y="481.9" font-family='"Liberation Sans", sans-serif' font-size="10.2" text-anchor="middle" font-weight="normal" font-style="normal" fill="#1e1e1e" >10 meV</text>
<text x="673.8" y="457.1" font-family='"Liberation Sans", sans-serif' font-size="10.2" text-anchor="middle" font-weight="normal" font-style="normal" fill="#1e1e1e" >26 meV</text>
<text x="737.9" y="495.5" font-family='"Liberation Sans", sans-serif' font-size="10.2" text-anchor="middle" font-weight="normal" font-style="normal" fill="#1e1e1e" >1 meV</text>
<text x="534.2" y="518.2" font-family='"Liberation Sans", sans-serif' font-size="12.3" fill="#1e1e1e"><tspan font-style="italic">V</tspan><tspan font-size="7.5" dy="4.6">oc</tspan></text>
<text x="607.5" y="519.6" font-family='"Liberation Sans", sans-serif' font-size="12.2" text-anchor="middle" font-weight="normal" font-style="normal" fill="#1e1e1e" >Bulk</text>
<text x="673.2" y="519.6" font-family='"Liberation Sans", sans-serif' font-size="12.2" text-anchor="middle" font-weight="normal" font-style="normal" fill="#1e1e1e" >HTL</text>
<text x="739.3" y="519.6" font-family='"Liberation Sans", sans-serif' font-size="12.2" text-anchor="middle" font-weight="normal" font-style="normal" fill="#1e1e1e" >ETL</text>
<text x="466.0" y="462.7" font-family='"Liberation Sans", sans-serif' font-size="12.2" fill="#1e1e1e" text-anchor="middle" transform="rotate(-90 466.0 462.7)">QFLS, <tspan font-style="italic">q &#916;V</tspan><tspan font-size="8" dy="3">oc</tspan></text>
<text x="483.9" y="464.2" font-family='"Liberation Sans", sans-serif' font-size="11.8" text-anchor="middle" font-weight="normal" font-style="normal" fill="#1e1e1e" transform="rotate(-90 483.9 464.2)" >increasement (meV)</text>
<text x="784.5" y="458.7" font-family='"Liberation Sans", sans-serif' font-size="12.5" text-anchor="start" font-weight="normal" font-style="normal" fill="#222" textLength="28.7" lengthAdjust="spacingAndGlyphs" >From</text>
<text x="784.5" y="475.3" font-family='"Liberation Sans", sans-serif' font-size="12.5" text-anchor="start" font-weight="normal" font-style="normal" fill="#222" textLength="27.5" lengthAdjust="spacingAndGlyphs" >QFLS</text>
</svg></body></html>
